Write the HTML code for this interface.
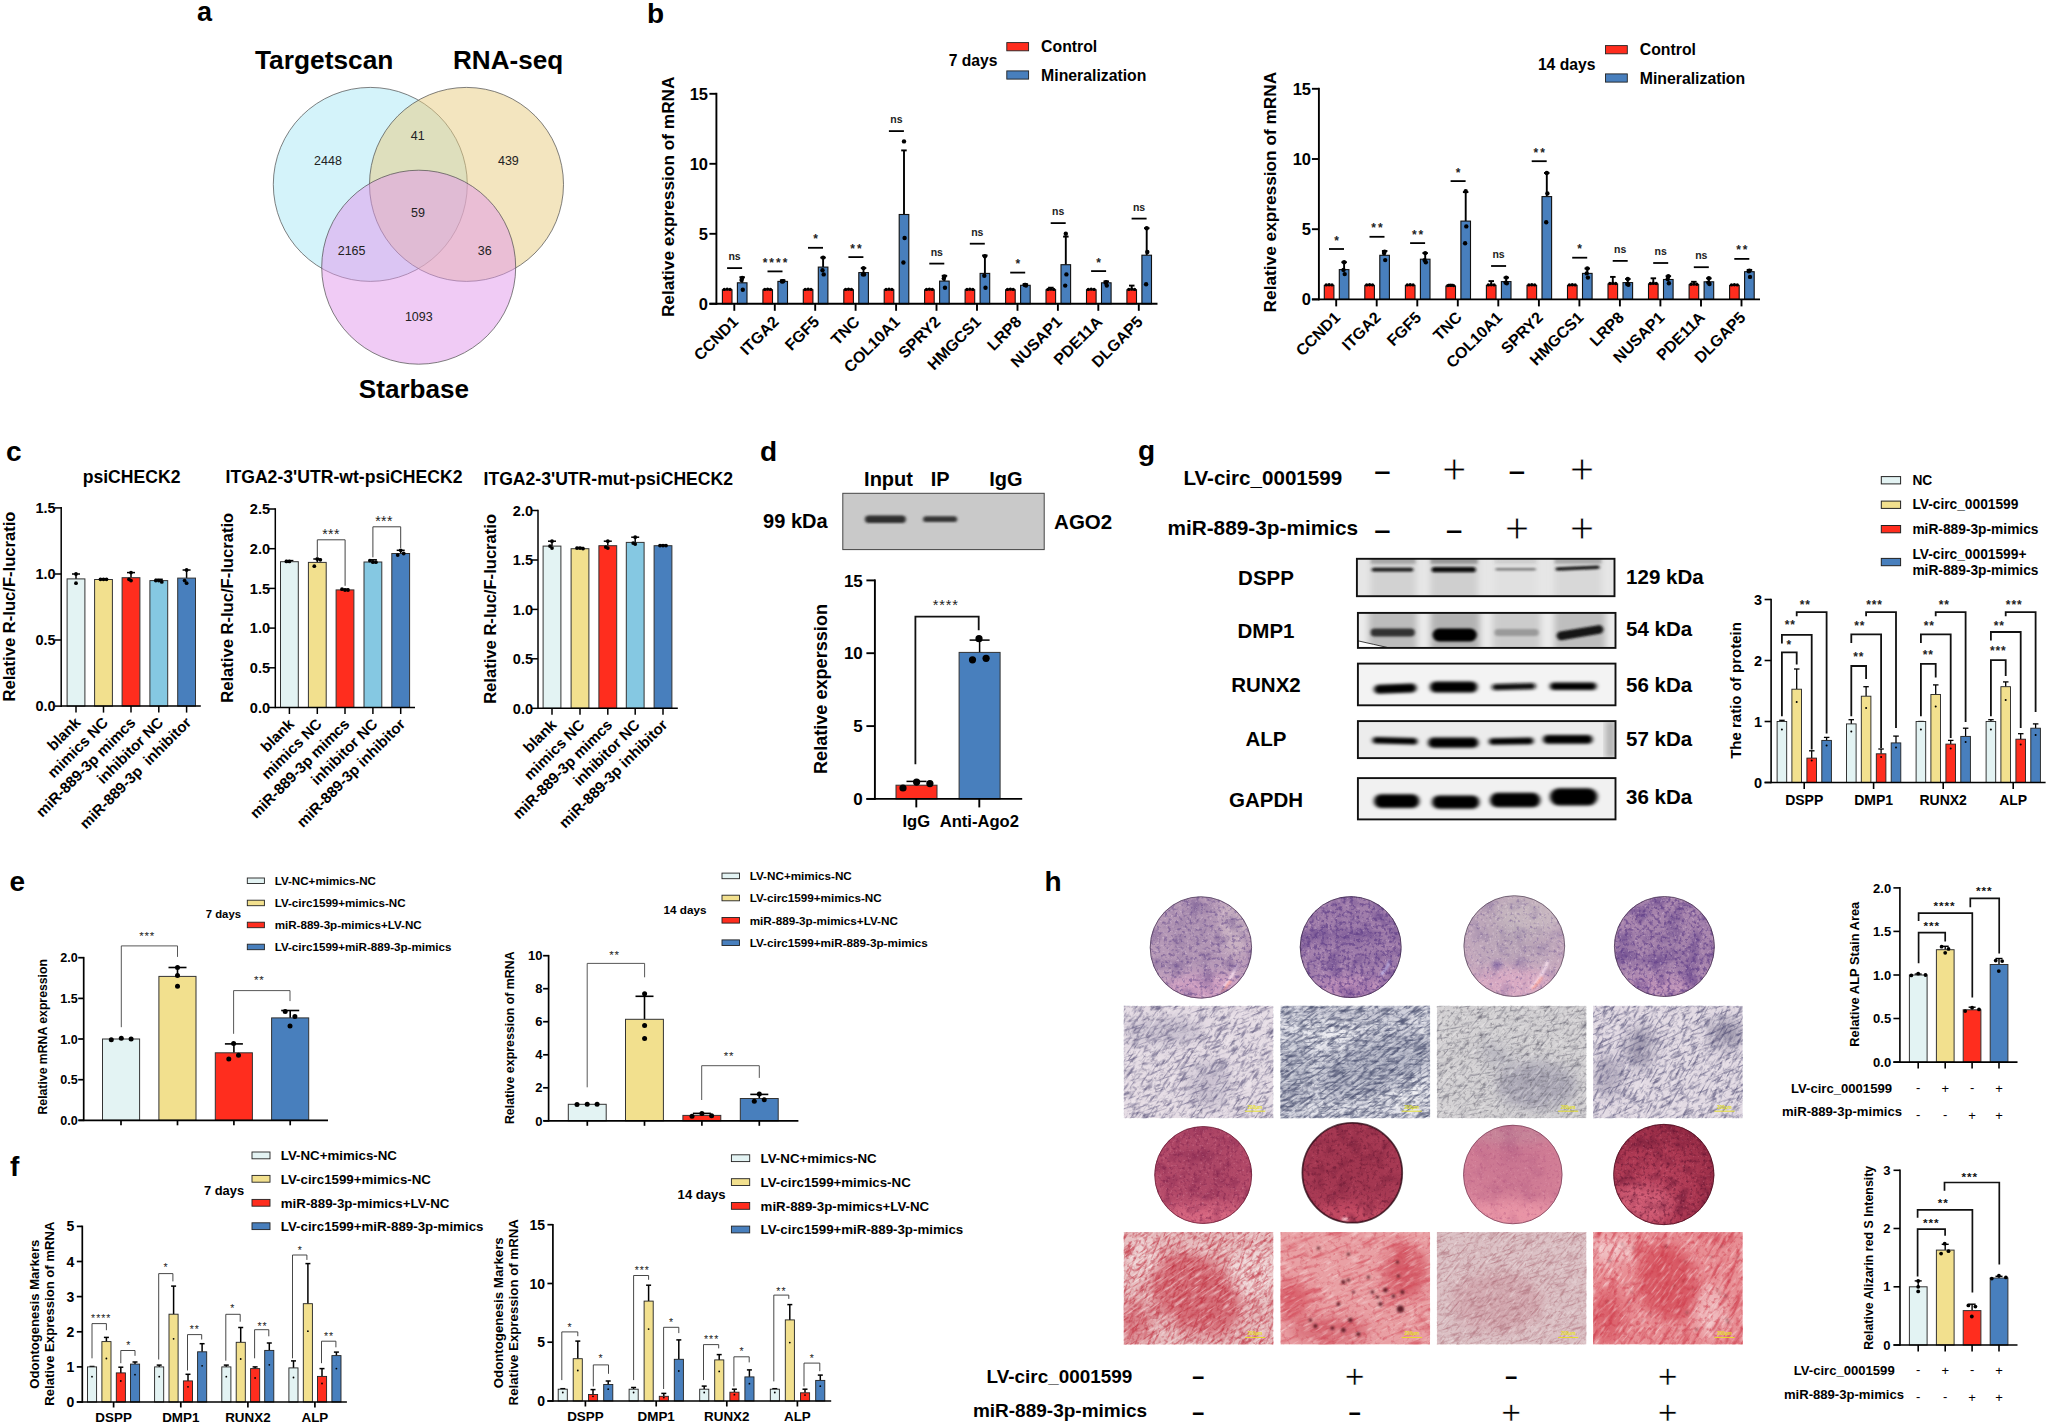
<!DOCTYPE html>
<html lang="en"><head><meta charset="utf-8"><title>Figure</title>
<style>
html,body{margin:0;padding:0;background:#fff;}
body{width:2048px;height:1424px;overflow:hidden;}
svg{display:block;font-family:'Liberation Sans', sans-serif;}
</style></head><body>
<svg width="2048" height="1424" viewBox="0 0 2048 1424">
<text x="197.0" y="21.3" font-size="27" font-weight="bold">a</text>
<text x="255.0" y="69.4" font-size="26.3" font-weight="bold">Targetscan</text>
<text x="453.0" y="69.4" font-size="26.1" font-weight="bold">RNA-seq</text>
<text x="358.8" y="398.4" font-size="26.1" font-weight="bold">Starbase</text>
<circle cx="370.3" cy="184.4" r="97" fill="#aae8f6" fill-opacity="0.5" stroke="#4a4a4a" stroke-width="0.7"/>
<circle cx="466.5" cy="184.4" r="97" fill="#e8cc80" fill-opacity="0.5" stroke="#4a4a4a" stroke-width="0.7"/>
<circle cx="418.7" cy="267.2" r="97" fill="#e198ec" fill-opacity="0.5" stroke="#4a4a4a" stroke-width="0.7"/>
<text x="328.0" y="164.8" font-size="12.5" text-anchor="middle" fill="#222">2448</text>
<text x="417.8" y="139.8" font-size="12.5" text-anchor="middle" fill="#222">41</text>
<text x="508.4" y="164.8" font-size="12.5" text-anchor="middle" fill="#222">439</text>
<text x="418.0" y="216.6" font-size="12.5" text-anchor="middle" fill="#222">59</text>
<text x="351.6" y="254.8" font-size="12.5" text-anchor="middle" fill="#222">2165</text>
<text x="484.7" y="254.8" font-size="12.5" text-anchor="middle" fill="#222">36</text>
<text x="418.8" y="321.0" font-size="12.5" text-anchor="middle" fill="#222">1093</text>
<text x="647.0" y="22.9" font-size="28" font-weight="bold">b</text>
<rect x="722.4" y="289.8" width="9.6" height="14.0" fill="#ff2d1e" stroke="#111" stroke-width="1.1"/>
<line x1="742.2" y1="277.2" x2="742.2" y2="282.8" stroke="#000" stroke-width="1.9"/>
<line x1="739.4" y1="277.2" x2="744.9" y2="277.2" stroke="#000" stroke-width="1.9"/>
<rect x="737.4" y="282.8" width="9.6" height="21.0" fill="#487fbd" stroke="#111" stroke-width="1.1"/>
<circle cx="724.3" cy="289.4" r="1.7" fill="#000"/>
<circle cx="727.2" cy="289.1" r="1.7" fill="#000"/>
<circle cx="730.1" cy="289.4" r="1.7" fill="#000"/>
<circle cx="742.2" cy="277.9" r="2.2" fill="#000"/>
<circle cx="742.8" cy="289.8" r="2.2" fill="#000"/>
<circle cx="741.6" cy="280.0" r="2.2" fill="#000"/>
<rect x="762.9" y="289.8" width="9.6" height="14.0" fill="#ff2d1e" stroke="#111" stroke-width="1.1"/>
<line x1="782.6" y1="280.3" x2="782.6" y2="281.4" stroke="#000" stroke-width="1.9"/>
<line x1="779.9" y1="280.3" x2="785.4" y2="280.3" stroke="#000" stroke-width="1.9"/>
<rect x="777.9" y="281.4" width="9.6" height="22.4" fill="#487fbd" stroke="#111" stroke-width="1.1"/>
<circle cx="764.8" cy="289.4" r="1.7" fill="#000"/>
<circle cx="767.6" cy="289.1" r="1.7" fill="#000"/>
<circle cx="770.5" cy="289.4" r="1.7" fill="#000"/>
<circle cx="782.6" cy="281.4" r="2.2" fill="#000"/>
<circle cx="783.2" cy="281.1" r="2.2" fill="#000"/>
<circle cx="782.0" cy="281.4" r="2.2" fill="#000"/>
<rect x="803.3" y="289.8" width="9.6" height="14.0" fill="#ff2d1e" stroke="#111" stroke-width="1.1"/>
<line x1="823.1" y1="257.6" x2="823.1" y2="267.1" stroke="#000" stroke-width="1.9"/>
<line x1="820.3" y1="257.6" x2="825.8" y2="257.6" stroke="#000" stroke-width="1.9"/>
<rect x="818.3" y="267.1" width="9.6" height="36.7" fill="#487fbd" stroke="#111" stroke-width="1.1"/>
<circle cx="805.2" cy="289.4" r="1.7" fill="#000"/>
<circle cx="808.1" cy="289.1" r="1.7" fill="#000"/>
<circle cx="811.0" cy="289.4" r="1.7" fill="#000"/>
<circle cx="823.1" cy="257.6" r="2.2" fill="#000"/>
<circle cx="823.7" cy="274.4" r="2.2" fill="#000"/>
<circle cx="822.5" cy="270.2" r="2.2" fill="#000"/>
<rect x="843.8" y="289.8" width="9.6" height="14.0" fill="#ff2d1e" stroke="#111" stroke-width="1.1"/>
<line x1="863.5" y1="268.1" x2="863.5" y2="272.6" stroke="#000" stroke-width="1.9"/>
<line x1="860.8" y1="268.1" x2="866.3" y2="268.1" stroke="#000" stroke-width="1.9"/>
<rect x="858.8" y="272.6" width="9.6" height="31.2" fill="#487fbd" stroke="#111" stroke-width="1.1"/>
<circle cx="845.6" cy="289.4" r="1.7" fill="#000"/>
<circle cx="848.5" cy="289.1" r="1.7" fill="#000"/>
<circle cx="851.4" cy="289.4" r="1.7" fill="#000"/>
<circle cx="863.5" cy="268.1" r="2.2" fill="#000"/>
<circle cx="864.1" cy="274.4" r="2.2" fill="#000"/>
<circle cx="862.9" cy="274.4" r="2.2" fill="#000"/>
<rect x="884.2" y="289.8" width="9.6" height="14.0" fill="#ff2d1e" stroke="#111" stroke-width="1.1"/>
<line x1="904.0" y1="150.4" x2="904.0" y2="214.5" stroke="#000" stroke-width="1.9"/>
<line x1="901.2" y1="150.4" x2="906.7" y2="150.4" stroke="#000" stroke-width="1.9"/>
<rect x="899.2" y="214.5" width="9.6" height="89.3" fill="#487fbd" stroke="#111" stroke-width="1.1"/>
<circle cx="886.1" cy="289.4" r="1.7" fill="#000"/>
<circle cx="889.0" cy="289.1" r="1.7" fill="#000"/>
<circle cx="891.9" cy="289.4" r="1.7" fill="#000"/>
<circle cx="904.0" cy="141.4" r="2.2" fill="#000"/>
<circle cx="904.6" cy="238.0" r="2.2" fill="#000"/>
<circle cx="903.4" cy="262.5" r="2.2" fill="#000"/>
<rect x="924.6" y="289.8" width="9.6" height="14.0" fill="#ff2d1e" stroke="#111" stroke-width="1.1"/>
<line x1="944.4" y1="275.8" x2="944.4" y2="281.1" stroke="#000" stroke-width="1.9"/>
<line x1="941.7" y1="275.8" x2="947.2" y2="275.8" stroke="#000" stroke-width="1.9"/>
<rect x="939.6" y="281.1" width="9.6" height="22.7" fill="#487fbd" stroke="#111" stroke-width="1.1"/>
<circle cx="926.5" cy="289.4" r="1.7" fill="#000"/>
<circle cx="929.4" cy="289.1" r="1.7" fill="#000"/>
<circle cx="932.3" cy="289.4" r="1.7" fill="#000"/>
<circle cx="944.4" cy="276.5" r="2.2" fill="#000"/>
<circle cx="945.0" cy="287.7" r="2.2" fill="#000"/>
<circle cx="943.8" cy="278.6" r="2.2" fill="#000"/>
<rect x="965.1" y="289.8" width="9.6" height="14.0" fill="#ff2d1e" stroke="#111" stroke-width="1.1"/>
<line x1="984.9" y1="255.5" x2="984.9" y2="273.4" stroke="#000" stroke-width="1.9"/>
<line x1="982.1" y1="255.5" x2="987.6" y2="255.5" stroke="#000" stroke-width="1.9"/>
<rect x="980.1" y="273.4" width="9.6" height="30.4" fill="#487fbd" stroke="#111" stroke-width="1.1"/>
<circle cx="967.0" cy="289.4" r="1.7" fill="#000"/>
<circle cx="969.9" cy="289.1" r="1.7" fill="#000"/>
<circle cx="972.8" cy="289.4" r="1.7" fill="#000"/>
<circle cx="984.9" cy="256.2" r="2.2" fill="#000"/>
<circle cx="985.5" cy="287.7" r="2.2" fill="#000"/>
<circle cx="984.3" cy="275.8" r="2.2" fill="#000"/>
<rect x="1005.6" y="289.8" width="9.6" height="14.0" fill="#ff2d1e" stroke="#111" stroke-width="1.1"/>
<line x1="1025.4" y1="284.2" x2="1025.4" y2="285.3" stroke="#000" stroke-width="1.9"/>
<line x1="1022.6" y1="284.2" x2="1028.1" y2="284.2" stroke="#000" stroke-width="1.9"/>
<rect x="1020.6" y="285.3" width="9.6" height="18.5" fill="#487fbd" stroke="#111" stroke-width="1.1"/>
<circle cx="1007.5" cy="289.4" r="1.7" fill="#000"/>
<circle cx="1010.4" cy="289.1" r="1.7" fill="#000"/>
<circle cx="1013.2" cy="289.4" r="1.7" fill="#000"/>
<circle cx="1025.4" cy="284.9" r="2.2" fill="#000"/>
<circle cx="1026.0" cy="285.6" r="2.2" fill="#000"/>
<circle cx="1024.8" cy="284.9" r="2.2" fill="#000"/>
<line x1="1050.8" y1="287.7" x2="1050.8" y2="289.8" stroke="#000" stroke-width="1.9"/>
<line x1="1048.1" y1="287.7" x2="1053.6" y2="287.7" stroke="#000" stroke-width="1.9"/>
<rect x="1046.0" y="289.8" width="9.6" height="14.0" fill="#ff2d1e" stroke="#111" stroke-width="1.1"/>
<line x1="1065.8" y1="236.6" x2="1065.8" y2="264.7" stroke="#000" stroke-width="1.9"/>
<line x1="1063.1" y1="236.6" x2="1068.6" y2="236.6" stroke="#000" stroke-width="1.9"/>
<rect x="1061.0" y="264.7" width="9.6" height="39.1" fill="#487fbd" stroke="#111" stroke-width="1.1"/>
<circle cx="1047.9" cy="289.4" r="1.7" fill="#000"/>
<circle cx="1050.8" cy="289.1" r="1.7" fill="#000"/>
<circle cx="1053.7" cy="289.4" r="1.7" fill="#000"/>
<circle cx="1065.8" cy="233.8" r="2.2" fill="#000"/>
<circle cx="1066.4" cy="274.4" r="2.2" fill="#000"/>
<circle cx="1065.2" cy="285.6" r="2.2" fill="#000"/>
<rect x="1086.5" y="289.8" width="9.6" height="14.0" fill="#ff2d1e" stroke="#111" stroke-width="1.1"/>
<line x1="1106.2" y1="281.4" x2="1106.2" y2="282.8" stroke="#000" stroke-width="1.9"/>
<line x1="1103.5" y1="281.4" x2="1109.0" y2="281.4" stroke="#000" stroke-width="1.9"/>
<rect x="1101.5" y="282.8" width="9.6" height="21.0" fill="#487fbd" stroke="#111" stroke-width="1.1"/>
<circle cx="1088.3" cy="289.4" r="1.7" fill="#000"/>
<circle cx="1091.2" cy="289.1" r="1.7" fill="#000"/>
<circle cx="1094.1" cy="289.4" r="1.7" fill="#000"/>
<circle cx="1106.2" cy="282.1" r="2.2" fill="#000"/>
<circle cx="1106.8" cy="285.6" r="2.2" fill="#000"/>
<circle cx="1105.7" cy="282.8" r="2.2" fill="#000"/>
<line x1="1131.7" y1="285.6" x2="1131.7" y2="289.8" stroke="#000" stroke-width="1.9"/>
<line x1="1129.0" y1="285.6" x2="1134.5" y2="285.6" stroke="#000" stroke-width="1.9"/>
<rect x="1126.9" y="289.8" width="9.6" height="14.0" fill="#ff2d1e" stroke="#111" stroke-width="1.1"/>
<line x1="1146.7" y1="228.2" x2="1146.7" y2="255.2" stroke="#000" stroke-width="1.9"/>
<line x1="1144.0" y1="228.2" x2="1149.5" y2="228.2" stroke="#000" stroke-width="1.9"/>
<rect x="1141.9" y="255.2" width="9.6" height="48.6" fill="#487fbd" stroke="#111" stroke-width="1.1"/>
<circle cx="1128.8" cy="289.4" r="1.7" fill="#000"/>
<circle cx="1131.7" cy="289.1" r="1.7" fill="#000"/>
<circle cx="1134.6" cy="289.4" r="1.7" fill="#000"/>
<circle cx="1146.7" cy="228.2" r="2.2" fill="#000"/>
<circle cx="1147.3" cy="252.0" r="2.2" fill="#000"/>
<circle cx="1146.1" cy="284.2" r="2.2" fill="#000"/>
<line x1="716.4" y1="92.8" x2="716.4" y2="304.8" stroke="#000" stroke-width="1.9"/>
<line x1="709.4" y1="303.8" x2="1157.5" y2="303.8" stroke="#000" stroke-width="1.9"/>
<line x1="709.4" y1="93.8" x2="716.4" y2="93.8" stroke="#000" stroke-width="1.9"/>
<text x="708.0" y="99.7" font-size="16.5" font-weight="bold" text-anchor="end">15</text>
<line x1="709.4" y1="163.8" x2="716.4" y2="163.8" stroke="#000" stroke-width="1.9"/>
<text x="708.0" y="169.7" font-size="16.5" font-weight="bold" text-anchor="end">10</text>
<line x1="709.4" y1="233.8" x2="716.4" y2="233.8" stroke="#000" stroke-width="1.9"/>
<text x="708.0" y="239.7" font-size="16.5" font-weight="bold" text-anchor="end">5</text>
<line x1="709.4" y1="303.8" x2="716.4" y2="303.8" stroke="#000" stroke-width="1.9"/>
<text x="708.0" y="309.7" font-size="16.5" font-weight="bold" text-anchor="end">0</text>
<line x1="734.3" y1="303.8" x2="734.3" y2="310.8" stroke="#000" stroke-width="1.9"/>
<line x1="774.8" y1="303.8" x2="774.8" y2="310.8" stroke="#000" stroke-width="1.9"/>
<line x1="815.2" y1="303.8" x2="815.2" y2="310.8" stroke="#000" stroke-width="1.9"/>
<line x1="855.6" y1="303.8" x2="855.6" y2="310.8" stroke="#000" stroke-width="1.9"/>
<line x1="896.1" y1="303.8" x2="896.1" y2="310.8" stroke="#000" stroke-width="1.9"/>
<line x1="936.5" y1="303.8" x2="936.5" y2="310.8" stroke="#000" stroke-width="1.9"/>
<line x1="977.0" y1="303.8" x2="977.0" y2="310.8" stroke="#000" stroke-width="1.9"/>
<line x1="1017.5" y1="303.8" x2="1017.5" y2="310.8" stroke="#000" stroke-width="1.9"/>
<line x1="1057.9" y1="303.8" x2="1057.9" y2="310.8" stroke="#000" stroke-width="1.9"/>
<line x1="1098.3" y1="303.8" x2="1098.3" y2="310.8" stroke="#000" stroke-width="1.9"/>
<line x1="1138.8" y1="303.8" x2="1138.8" y2="310.8" stroke="#000" stroke-width="1.9"/>
<text font-size="17.25" font-weight="bold" text-anchor="middle" transform="translate(674.2 196.8) rotate(-90)">Relative expression of mRNA</text>
<text x="739.3" y="322.8" font-size="15.9" font-weight="bold" text-anchor="end" transform="rotate(-45 739.3 322.8)">CCND1</text>
<text x="779.8" y="322.8" font-size="15.9" font-weight="bold" text-anchor="end" transform="rotate(-45 779.8 322.8)">ITGA2</text>
<text x="820.2" y="322.8" font-size="15.9" font-weight="bold" text-anchor="end" transform="rotate(-45 820.2 322.8)">FGF5</text>
<text x="860.6" y="322.8" font-size="15.9" font-weight="bold" text-anchor="end" transform="rotate(-45 860.6 322.8)">TNC</text>
<text x="901.1" y="322.8" font-size="15.9" font-weight="bold" text-anchor="end" transform="rotate(-45 901.1 322.8)">COL10A1</text>
<text x="941.5" y="322.8" font-size="15.9" font-weight="bold" text-anchor="end" transform="rotate(-45 941.5 322.8)">SPRY2</text>
<text x="982.0" y="322.8" font-size="15.9" font-weight="bold" text-anchor="end" transform="rotate(-45 982.0 322.8)">HMGCS1</text>
<text x="1022.5" y="322.8" font-size="15.9" font-weight="bold" text-anchor="end" transform="rotate(-45 1022.5 322.8)">LRP8</text>
<text x="1062.9" y="322.8" font-size="15.9" font-weight="bold" text-anchor="end" transform="rotate(-45 1062.9 322.8)">NUSAP1</text>
<text x="1103.3" y="322.8" font-size="15.9" font-weight="bold" text-anchor="end" transform="rotate(-45 1103.3 322.8)">PDE11A</text>
<text x="1143.8" y="322.8" font-size="15.9" font-weight="bold" text-anchor="end" transform="rotate(-45 1143.8 322.8)">DLGAP5</text>
<line x1="727.1" y1="268.1" x2="742.1" y2="268.1" stroke="#000" stroke-width="1.8"/>
<text x="734.6" y="260.1" font-size="10.5" font-weight="bold" text-anchor="middle" fill="#222">ns</text>
<line x1="767.5" y1="271.4" x2="782.5" y2="271.4" stroke="#000" stroke-width="1.8"/>
<text x="776.0" y="266.9" font-size="12" font-weight="bold" text-anchor="middle" fill="#222" letter-spacing="2">****</text>
<line x1="808.0" y1="247.8" x2="823.0" y2="247.8" stroke="#000" stroke-width="1.8"/>
<text x="816.5" y="243.3" font-size="12" font-weight="bold" text-anchor="middle" fill="#222" letter-spacing="2">*</text>
<line x1="848.4" y1="257.1" x2="863.4" y2="257.1" stroke="#000" stroke-width="1.8"/>
<text x="856.9" y="252.6" font-size="12" font-weight="bold" text-anchor="middle" fill="#222" letter-spacing="2">**</text>
<line x1="888.9" y1="131.1" x2="903.9" y2="131.1" stroke="#000" stroke-width="1.8"/>
<text x="896.4" y="123.1" font-size="10.5" font-weight="bold" text-anchor="middle" fill="#222">ns</text>
<line x1="929.3" y1="263.6" x2="944.3" y2="263.6" stroke="#000" stroke-width="1.8"/>
<text x="936.8" y="255.6" font-size="10.5" font-weight="bold" text-anchor="middle" fill="#222">ns</text>
<line x1="969.8" y1="243.7" x2="984.8" y2="243.7" stroke="#000" stroke-width="1.8"/>
<text x="977.3" y="235.7" font-size="10.5" font-weight="bold" text-anchor="middle" fill="#222">ns</text>
<line x1="1010.2" y1="272.6" x2="1025.2" y2="272.6" stroke="#000" stroke-width="1.8"/>
<text x="1018.8" y="268.1" font-size="12" font-weight="bold" text-anchor="middle" fill="#222" letter-spacing="2">*</text>
<line x1="1050.7" y1="223.1" x2="1065.7" y2="223.1" stroke="#000" stroke-width="1.8"/>
<text x="1058.2" y="215.1" font-size="10.5" font-weight="bold" text-anchor="middle" fill="#222">ns</text>
<line x1="1091.1" y1="271.1" x2="1106.1" y2="271.1" stroke="#000" stroke-width="1.8"/>
<text x="1099.6" y="266.6" font-size="12" font-weight="bold" text-anchor="middle" fill="#222" letter-spacing="2">*</text>
<line x1="1131.6" y1="218.6" x2="1146.6" y2="218.6" stroke="#000" stroke-width="1.8"/>
<text x="1139.1" y="210.6" font-size="10.5" font-weight="bold" text-anchor="middle" fill="#222">ns</text>
<rect x="1006.8" y="42.6" width="21.8" height="8.2" fill="#ff2d1e" stroke="#222" stroke-width="0.9"/>
<rect x="1006.8" y="70.9" width="21.8" height="8.2" fill="#487fbd" stroke="#222" stroke-width="0.9"/>
<text x="1041.1" y="52.2" font-size="15.8" font-weight="bold">Control</text>
<text x="1041.1" y="80.5" font-size="15.8" font-weight="bold">Mineralization</text>
<text x="948.7" y="66.1" font-size="15.7" font-weight="bold">7 days</text>
<rect x="1324.3" y="285.4" width="9.6" height="14.0" fill="#ff2d1e" stroke="#111" stroke-width="1.1"/>
<line x1="1344.1" y1="262.2" x2="1344.1" y2="269.6" stroke="#000" stroke-width="1.9"/>
<line x1="1341.4" y1="262.2" x2="1346.9" y2="262.2" stroke="#000" stroke-width="1.9"/>
<rect x="1339.3" y="269.6" width="9.6" height="29.8" fill="#487fbd" stroke="#111" stroke-width="1.1"/>
<circle cx="1326.2" cy="284.9" r="1.7" fill="#000"/>
<circle cx="1329.1" cy="284.7" r="1.7" fill="#000"/>
<circle cx="1332.0" cy="284.9" r="1.7" fill="#000"/>
<circle cx="1344.1" cy="262.2" r="2.2" fill="#000"/>
<circle cx="1344.7" cy="274.1" r="2.2" fill="#000"/>
<circle cx="1343.5" cy="269.9" r="2.2" fill="#000"/>
<rect x="1364.8" y="285.4" width="9.6" height="14.0" fill="#ff2d1e" stroke="#111" stroke-width="1.1"/>
<line x1="1384.6" y1="251.0" x2="1384.6" y2="255.3" stroke="#000" stroke-width="1.9"/>
<line x1="1381.9" y1="251.0" x2="1387.4" y2="251.0" stroke="#000" stroke-width="1.9"/>
<rect x="1379.8" y="255.3" width="9.6" height="44.1" fill="#487fbd" stroke="#111" stroke-width="1.1"/>
<circle cx="1366.7" cy="284.9" r="1.7" fill="#000"/>
<circle cx="1369.6" cy="284.7" r="1.7" fill="#000"/>
<circle cx="1372.5" cy="284.9" r="1.7" fill="#000"/>
<circle cx="1384.6" cy="251.7" r="2.2" fill="#000"/>
<circle cx="1385.2" cy="260.1" r="2.2" fill="#000"/>
<circle cx="1384.0" cy="253.1" r="2.2" fill="#000"/>
<rect x="1405.4" y="285.4" width="9.6" height="14.0" fill="#ff2d1e" stroke="#111" stroke-width="1.1"/>
<line x1="1425.2" y1="253.1" x2="1425.2" y2="259.2" stroke="#000" stroke-width="1.9"/>
<line x1="1422.4" y1="253.1" x2="1427.9" y2="253.1" stroke="#000" stroke-width="1.9"/>
<rect x="1420.4" y="259.2" width="9.6" height="40.2" fill="#487fbd" stroke="#111" stroke-width="1.1"/>
<circle cx="1407.3" cy="284.9" r="1.7" fill="#000"/>
<circle cx="1410.2" cy="284.7" r="1.7" fill="#000"/>
<circle cx="1413.1" cy="284.9" r="1.7" fill="#000"/>
<circle cx="1425.2" cy="253.1" r="2.2" fill="#000"/>
<circle cx="1425.8" cy="262.2" r="2.2" fill="#000"/>
<circle cx="1424.6" cy="260.1" r="2.2" fill="#000"/>
<line x1="1450.7" y1="284.7" x2="1450.7" y2="286.1" stroke="#000" stroke-width="1.9"/>
<line x1="1447.9" y1="284.7" x2="1453.4" y2="284.7" stroke="#000" stroke-width="1.9"/>
<rect x="1445.9" y="286.1" width="9.6" height="13.3" fill="#ff2d1e" stroke="#111" stroke-width="1.1"/>
<line x1="1465.7" y1="192.1" x2="1465.7" y2="221.1" stroke="#000" stroke-width="1.9"/>
<line x1="1462.9" y1="192.1" x2="1468.4" y2="192.1" stroke="#000" stroke-width="1.9"/>
<rect x="1460.9" y="221.1" width="9.6" height="78.3" fill="#487fbd" stroke="#111" stroke-width="1.1"/>
<circle cx="1447.8" cy="285.6" r="1.7" fill="#000"/>
<circle cx="1450.7" cy="285.4" r="1.7" fill="#000"/>
<circle cx="1453.6" cy="285.6" r="1.7" fill="#000"/>
<circle cx="1465.7" cy="191.3" r="2.2" fill="#000"/>
<circle cx="1466.3" cy="226.4" r="2.2" fill="#000"/>
<circle cx="1465.1" cy="243.2" r="2.2" fill="#000"/>
<line x1="1491.2" y1="281.1" x2="1491.2" y2="285.4" stroke="#000" stroke-width="1.9"/>
<line x1="1488.5" y1="281.1" x2="1494.0" y2="281.1" stroke="#000" stroke-width="1.9"/>
<rect x="1486.4" y="285.4" width="9.6" height="14.0" fill="#ff2d1e" stroke="#111" stroke-width="1.1"/>
<line x1="1506.2" y1="277.6" x2="1506.2" y2="281.6" stroke="#000" stroke-width="1.9"/>
<line x1="1503.5" y1="277.6" x2="1509.0" y2="277.6" stroke="#000" stroke-width="1.9"/>
<rect x="1501.4" y="281.6" width="9.6" height="17.8" fill="#487fbd" stroke="#111" stroke-width="1.1"/>
<circle cx="1488.3" cy="284.9" r="1.7" fill="#000"/>
<circle cx="1491.2" cy="284.7" r="1.7" fill="#000"/>
<circle cx="1494.1" cy="284.9" r="1.7" fill="#000"/>
<circle cx="1506.2" cy="277.6" r="2.2" fill="#000"/>
<circle cx="1506.8" cy="283.3" r="2.2" fill="#000"/>
<circle cx="1505.6" cy="282.6" r="2.2" fill="#000"/>
<rect x="1527.0" y="285.4" width="9.6" height="14.0" fill="#ff2d1e" stroke="#111" stroke-width="1.1"/>
<line x1="1546.8" y1="173.0" x2="1546.8" y2="196.6" stroke="#000" stroke-width="1.9"/>
<line x1="1544.0" y1="173.0" x2="1549.5" y2="173.0" stroke="#000" stroke-width="1.9"/>
<rect x="1542.0" y="196.6" width="9.6" height="102.8" fill="#487fbd" stroke="#111" stroke-width="1.1"/>
<circle cx="1528.9" cy="284.9" r="1.7" fill="#000"/>
<circle cx="1531.8" cy="284.7" r="1.7" fill="#000"/>
<circle cx="1534.7" cy="284.9" r="1.7" fill="#000"/>
<circle cx="1546.8" cy="173.0" r="2.2" fill="#000"/>
<circle cx="1547.4" cy="193.4" r="2.2" fill="#000"/>
<circle cx="1546.2" cy="222.2" r="2.2" fill="#000"/>
<rect x="1567.5" y="285.4" width="9.6" height="14.0" fill="#ff2d1e" stroke="#111" stroke-width="1.1"/>
<line x1="1587.3" y1="268.5" x2="1587.3" y2="273.4" stroke="#000" stroke-width="1.9"/>
<line x1="1584.5" y1="268.5" x2="1590.0" y2="268.5" stroke="#000" stroke-width="1.9"/>
<rect x="1582.5" y="273.4" width="9.6" height="26.0" fill="#487fbd" stroke="#111" stroke-width="1.1"/>
<circle cx="1569.4" cy="284.9" r="1.7" fill="#000"/>
<circle cx="1572.3" cy="284.7" r="1.7" fill="#000"/>
<circle cx="1575.2" cy="284.9" r="1.7" fill="#000"/>
<circle cx="1587.3" cy="268.5" r="2.2" fill="#000"/>
<circle cx="1587.9" cy="277.6" r="2.2" fill="#000"/>
<circle cx="1586.7" cy="273.4" r="2.2" fill="#000"/>
<line x1="1612.8" y1="276.9" x2="1612.8" y2="284.0" stroke="#000" stroke-width="1.9"/>
<line x1="1610.1" y1="276.9" x2="1615.6" y2="276.9" stroke="#000" stroke-width="1.9"/>
<rect x="1608.0" y="284.0" width="9.6" height="15.4" fill="#ff2d1e" stroke="#111" stroke-width="1.1"/>
<line x1="1627.8" y1="279.0" x2="1627.8" y2="282.6" stroke="#000" stroke-width="1.9"/>
<line x1="1625.1" y1="279.0" x2="1630.6" y2="279.0" stroke="#000" stroke-width="1.9"/>
<rect x="1623.0" y="282.6" width="9.6" height="16.8" fill="#487fbd" stroke="#111" stroke-width="1.1"/>
<circle cx="1609.9" cy="283.5" r="1.7" fill="#000"/>
<circle cx="1612.8" cy="283.3" r="1.7" fill="#000"/>
<circle cx="1615.7" cy="283.5" r="1.7" fill="#000"/>
<circle cx="1627.8" cy="279.0" r="2.2" fill="#000"/>
<circle cx="1628.4" cy="284.7" r="2.2" fill="#000"/>
<circle cx="1627.2" cy="284.0" r="2.2" fill="#000"/>
<line x1="1653.3" y1="278.3" x2="1653.3" y2="284.0" stroke="#000" stroke-width="1.9"/>
<line x1="1650.6" y1="278.3" x2="1656.1" y2="278.3" stroke="#000" stroke-width="1.9"/>
<rect x="1648.5" y="284.0" width="9.6" height="15.4" fill="#ff2d1e" stroke="#111" stroke-width="1.1"/>
<line x1="1668.3" y1="276.2" x2="1668.3" y2="279.5" stroke="#000" stroke-width="1.9"/>
<line x1="1665.6" y1="276.2" x2="1671.1" y2="276.2" stroke="#000" stroke-width="1.9"/>
<rect x="1663.5" y="279.5" width="9.6" height="19.9" fill="#487fbd" stroke="#111" stroke-width="1.1"/>
<circle cx="1650.4" cy="283.5" r="1.7" fill="#000"/>
<circle cx="1653.3" cy="283.3" r="1.7" fill="#000"/>
<circle cx="1656.2" cy="283.5" r="1.7" fill="#000"/>
<circle cx="1668.3" cy="276.2" r="2.2" fill="#000"/>
<circle cx="1668.9" cy="283.3" r="2.2" fill="#000"/>
<circle cx="1667.7" cy="279.0" r="2.2" fill="#000"/>
<line x1="1693.9" y1="281.8" x2="1693.9" y2="284.7" stroke="#000" stroke-width="1.9"/>
<line x1="1691.1" y1="281.8" x2="1696.6" y2="281.8" stroke="#000" stroke-width="1.9"/>
<rect x="1689.1" y="284.7" width="9.6" height="14.7" fill="#ff2d1e" stroke="#111" stroke-width="1.1"/>
<line x1="1708.9" y1="278.3" x2="1708.9" y2="281.8" stroke="#000" stroke-width="1.9"/>
<line x1="1706.1" y1="278.3" x2="1711.6" y2="278.3" stroke="#000" stroke-width="1.9"/>
<rect x="1704.1" y="281.8" width="9.6" height="17.6" fill="#487fbd" stroke="#111" stroke-width="1.1"/>
<circle cx="1691.0" cy="284.2" r="1.7" fill="#000"/>
<circle cx="1693.9" cy="284.0" r="1.7" fill="#000"/>
<circle cx="1696.8" cy="284.2" r="1.7" fill="#000"/>
<circle cx="1708.9" cy="278.3" r="2.2" fill="#000"/>
<circle cx="1709.5" cy="284.0" r="2.2" fill="#000"/>
<circle cx="1708.3" cy="282.6" r="2.2" fill="#000"/>
<rect x="1729.6" y="285.4" width="9.6" height="14.0" fill="#ff2d1e" stroke="#111" stroke-width="1.1"/>
<line x1="1749.4" y1="269.9" x2="1749.4" y2="271.7" stroke="#000" stroke-width="1.9"/>
<line x1="1746.7" y1="269.9" x2="1752.2" y2="269.9" stroke="#000" stroke-width="1.9"/>
<rect x="1744.6" y="271.7" width="9.6" height="27.7" fill="#487fbd" stroke="#111" stroke-width="1.1"/>
<circle cx="1731.5" cy="284.9" r="1.7" fill="#000"/>
<circle cx="1734.4" cy="284.7" r="1.7" fill="#000"/>
<circle cx="1737.3" cy="284.9" r="1.7" fill="#000"/>
<circle cx="1749.4" cy="270.6" r="2.2" fill="#000"/>
<circle cx="1750.0" cy="276.9" r="2.2" fill="#000"/>
<circle cx="1748.8" cy="271.3" r="2.2" fill="#000"/>
<line x1="1318.9" y1="87.8" x2="1318.9" y2="300.3" stroke="#000" stroke-width="1.9"/>
<line x1="1311.9" y1="299.4" x2="1760.0" y2="299.4" stroke="#000" stroke-width="1.9"/>
<line x1="1311.9" y1="88.8" x2="1318.9" y2="88.8" stroke="#000" stroke-width="1.9"/>
<text x="1311.0" y="94.7" font-size="16.5" font-weight="bold" text-anchor="end">15</text>
<line x1="1311.9" y1="159.0" x2="1318.9" y2="159.0" stroke="#000" stroke-width="1.9"/>
<text x="1311.0" y="164.9" font-size="16.5" font-weight="bold" text-anchor="end">10</text>
<line x1="1311.9" y1="229.2" x2="1318.9" y2="229.2" stroke="#000" stroke-width="1.9"/>
<text x="1311.0" y="235.1" font-size="16.5" font-weight="bold" text-anchor="end">5</text>
<line x1="1311.9" y1="299.4" x2="1318.9" y2="299.4" stroke="#000" stroke-width="1.9"/>
<text x="1311.0" y="305.3" font-size="16.5" font-weight="bold" text-anchor="end">0</text>
<line x1="1336.2" y1="299.4" x2="1336.2" y2="306.4" stroke="#000" stroke-width="1.9"/>
<line x1="1376.7" y1="299.4" x2="1376.7" y2="306.4" stroke="#000" stroke-width="1.9"/>
<line x1="1417.3" y1="299.4" x2="1417.3" y2="306.4" stroke="#000" stroke-width="1.9"/>
<line x1="1457.8" y1="299.4" x2="1457.8" y2="306.4" stroke="#000" stroke-width="1.9"/>
<line x1="1498.3" y1="299.4" x2="1498.3" y2="306.4" stroke="#000" stroke-width="1.9"/>
<line x1="1538.9" y1="299.4" x2="1538.9" y2="306.4" stroke="#000" stroke-width="1.9"/>
<line x1="1579.4" y1="299.4" x2="1579.4" y2="306.4" stroke="#000" stroke-width="1.9"/>
<line x1="1619.9" y1="299.4" x2="1619.9" y2="306.4" stroke="#000" stroke-width="1.9"/>
<line x1="1660.4" y1="299.4" x2="1660.4" y2="306.4" stroke="#000" stroke-width="1.9"/>
<line x1="1701.0" y1="299.4" x2="1701.0" y2="306.4" stroke="#000" stroke-width="1.9"/>
<line x1="1741.5" y1="299.4" x2="1741.5" y2="306.4" stroke="#000" stroke-width="1.9"/>
<text font-size="17.25" font-weight="bold" text-anchor="middle" transform="translate(1276.2 192.1) rotate(-90)">Relative expression of mRNA</text>
<text x="1341.2" y="318.4" font-size="15.9" font-weight="bold" text-anchor="end" transform="rotate(-45 1341.2 318.4)">CCND1</text>
<text x="1381.7" y="318.4" font-size="15.9" font-weight="bold" text-anchor="end" transform="rotate(-45 1381.7 318.4)">ITGA2</text>
<text x="1422.3" y="318.4" font-size="15.9" font-weight="bold" text-anchor="end" transform="rotate(-45 1422.3 318.4)">FGF5</text>
<text x="1462.8" y="318.4" font-size="15.9" font-weight="bold" text-anchor="end" transform="rotate(-45 1462.8 318.4)">TNC</text>
<text x="1503.3" y="318.4" font-size="15.9" font-weight="bold" text-anchor="end" transform="rotate(-45 1503.3 318.4)">COL10A1</text>
<text x="1543.9" y="318.4" font-size="15.9" font-weight="bold" text-anchor="end" transform="rotate(-45 1543.9 318.4)">SPRY2</text>
<text x="1584.4" y="318.4" font-size="15.9" font-weight="bold" text-anchor="end" transform="rotate(-45 1584.4 318.4)">HMGCS1</text>
<text x="1624.9" y="318.4" font-size="15.9" font-weight="bold" text-anchor="end" transform="rotate(-45 1624.9 318.4)">LRP8</text>
<text x="1665.4" y="318.4" font-size="15.9" font-weight="bold" text-anchor="end" transform="rotate(-45 1665.4 318.4)">NUSAP1</text>
<text x="1706.0" y="318.4" font-size="15.9" font-weight="bold" text-anchor="end" transform="rotate(-45 1706.0 318.4)">PDE11A</text>
<text x="1746.5" y="318.4" font-size="15.9" font-weight="bold" text-anchor="end" transform="rotate(-45 1746.5 318.4)">DLGAP5</text>
<line x1="1329.0" y1="249.0" x2="1344.0" y2="249.0" stroke="#000" stroke-width="1.8"/>
<text x="1337.5" y="244.5" font-size="12" font-weight="bold" text-anchor="middle" fill="#222" letter-spacing="2">*</text>
<line x1="1369.5" y1="236.8" x2="1384.5" y2="236.8" stroke="#000" stroke-width="1.8"/>
<text x="1378.0" y="232.3" font-size="12" font-weight="bold" text-anchor="middle" fill="#222" letter-spacing="2">**</text>
<line x1="1410.1" y1="243.1" x2="1425.1" y2="243.1" stroke="#000" stroke-width="1.8"/>
<text x="1418.6" y="238.6" font-size="12" font-weight="bold" text-anchor="middle" fill="#222" letter-spacing="2">**</text>
<line x1="1450.6" y1="181.1" x2="1465.6" y2="181.1" stroke="#000" stroke-width="1.8"/>
<text x="1459.1" y="176.6" font-size="12" font-weight="bold" text-anchor="middle" fill="#222" letter-spacing="2">*</text>
<line x1="1491.1" y1="266.0" x2="1506.1" y2="266.0" stroke="#000" stroke-width="1.8"/>
<text x="1498.6" y="258.0" font-size="10.5" font-weight="bold" text-anchor="middle" fill="#222">ns</text>
<line x1="1531.7" y1="161.2" x2="1546.7" y2="161.2" stroke="#000" stroke-width="1.8"/>
<text x="1540.2" y="156.7" font-size="12" font-weight="bold" text-anchor="middle" fill="#222" letter-spacing="2">**</text>
<line x1="1572.2" y1="257.7" x2="1587.2" y2="257.7" stroke="#000" stroke-width="1.8"/>
<text x="1580.7" y="253.2" font-size="12" font-weight="bold" text-anchor="middle" fill="#222" letter-spacing="2">*</text>
<line x1="1612.7" y1="260.9" x2="1627.7" y2="260.9" stroke="#000" stroke-width="1.8"/>
<text x="1620.2" y="252.9" font-size="10.5" font-weight="bold" text-anchor="middle" fill="#222">ns</text>
<line x1="1653.2" y1="263.0" x2="1668.2" y2="263.0" stroke="#000" stroke-width="1.8"/>
<text x="1660.7" y="255.0" font-size="10.5" font-weight="bold" text-anchor="middle" fill="#222">ns</text>
<line x1="1693.8" y1="267.2" x2="1708.8" y2="267.2" stroke="#000" stroke-width="1.8"/>
<text x="1701.3" y="259.2" font-size="10.5" font-weight="bold" text-anchor="middle" fill="#222">ns</text>
<line x1="1734.3" y1="258.9" x2="1749.3" y2="258.9" stroke="#000" stroke-width="1.8"/>
<text x="1742.8" y="254.4" font-size="12" font-weight="bold" text-anchor="middle" fill="#222" letter-spacing="2">**</text>
<rect x="1605.5" y="45.6" width="21.8" height="8.2" fill="#ff2d1e" stroke="#222" stroke-width="0.9"/>
<rect x="1605.5" y="73.9" width="21.8" height="8.2" fill="#487fbd" stroke="#222" stroke-width="0.9"/>
<text x="1639.8" y="55.2" font-size="15.8" font-weight="bold">Control</text>
<text x="1639.8" y="83.5" font-size="15.8" font-weight="bold">Mineralization</text>
<text x="1537.9" y="69.6" font-size="15.7" font-weight="bold">14 days</text>
<text x="6.0" y="461.0" font-size="28" font-weight="bold">c</text>
<line x1="76.0" y1="574.0" x2="76.0" y2="578.9" stroke="#000" stroke-width="1.5"/>
<line x1="72.0" y1="574.0" x2="80.0" y2="574.0" stroke="#000" stroke-width="1.5"/>
<rect x="67.1" y="578.9" width="17.8" height="127.2" fill="#e3f3f3" stroke="#333" stroke-width="1"/>
<circle cx="76.0" cy="583.2" r="1.9" fill="#000"/>
<circle cx="76.0" cy="574.0" r="1.9" fill="#000"/>
<line x1="103.5" y1="579.0" x2="103.5" y2="579.5" stroke="#000" stroke-width="1.5"/>
<line x1="99.5" y1="579.0" x2="107.5" y2="579.0" stroke="#000" stroke-width="1.5"/>
<rect x="94.6" y="579.5" width="17.8" height="126.6" fill="#f2e08e" stroke="#333" stroke-width="1"/>
<circle cx="103.5" cy="579.3" r="1.9" fill="#000"/>
<circle cx="100.5" cy="579.3" r="1.9" fill="#000"/>
<circle cx="106.5" cy="579.3" r="1.9" fill="#000"/>
<line x1="131.0" y1="572.6" x2="131.0" y2="577.7" stroke="#000" stroke-width="1.5"/>
<line x1="127.0" y1="572.6" x2="135.0" y2="572.6" stroke="#000" stroke-width="1.5"/>
<rect x="122.1" y="577.7" width="17.8" height="128.4" fill="#ff2d1e" stroke="#333" stroke-width="1"/>
<circle cx="131.0" cy="572.6" r="1.9" fill="#000"/>
<circle cx="131.0" cy="580.6" r="1.9" fill="#000"/>
<circle cx="129.0" cy="579.3" r="1.9" fill="#000"/>
<line x1="158.8" y1="579.3" x2="158.8" y2="580.6" stroke="#000" stroke-width="1.5"/>
<line x1="154.8" y1="579.3" x2="162.8" y2="579.3" stroke="#000" stroke-width="1.5"/>
<rect x="149.9" y="580.6" width="17.8" height="125.5" fill="#85c8e2" stroke="#333" stroke-width="1"/>
<circle cx="158.8" cy="580.6" r="1.9" fill="#000"/>
<circle cx="155.8" cy="580.6" r="1.9" fill="#000"/>
<circle cx="161.8" cy="581.9" r="1.9" fill="#000"/>
<line x1="186.6" y1="570.0" x2="186.6" y2="578.1" stroke="#000" stroke-width="1.5"/>
<line x1="182.6" y1="570.0" x2="190.6" y2="570.0" stroke="#000" stroke-width="1.5"/>
<rect x="177.7" y="578.1" width="17.8" height="128.0" fill="#487fbd" stroke="#333" stroke-width="1"/>
<circle cx="186.6" cy="570.0" r="1.9" fill="#000"/>
<circle cx="186.6" cy="583.2" r="1.9" fill="#000"/>
<circle cx="184.6" cy="580.6" r="1.9" fill="#000"/>
<line x1="61.2" y1="507.1" x2="61.2" y2="706.9" stroke="#000" stroke-width="1.5"/>
<line x1="61.2" y1="706.1" x2="200.8" y2="706.1" stroke="#000" stroke-width="1.5"/>
<line x1="54.7" y1="507.9" x2="61.2" y2="507.9" stroke="#000" stroke-width="1.5"/>
<text x="55.7" y="513.1" font-size="14.5" font-weight="bold" text-anchor="end">1.5</text>
<line x1="54.7" y1="574.0" x2="61.2" y2="574.0" stroke="#000" stroke-width="1.5"/>
<text x="55.7" y="579.2" font-size="14.5" font-weight="bold" text-anchor="end">1.0</text>
<line x1="54.7" y1="640.0" x2="61.2" y2="640.0" stroke="#000" stroke-width="1.5"/>
<text x="55.7" y="645.2" font-size="14.5" font-weight="bold" text-anchor="end">0.5</text>
<line x1="54.7" y1="706.1" x2="61.2" y2="706.1" stroke="#000" stroke-width="1.5"/>
<text x="55.7" y="711.3" font-size="14.5" font-weight="bold" text-anchor="end">0.0</text>
<line x1="76.0" y1="706.1" x2="76.0" y2="712.6" stroke="#000" stroke-width="1.5"/>
<line x1="103.5" y1="706.1" x2="103.5" y2="712.6" stroke="#000" stroke-width="1.5"/>
<line x1="131.0" y1="706.1" x2="131.0" y2="712.6" stroke="#000" stroke-width="1.5"/>
<line x1="158.8" y1="706.1" x2="158.8" y2="712.6" stroke="#000" stroke-width="1.5"/>
<line x1="186.6" y1="706.1" x2="186.6" y2="712.6" stroke="#000" stroke-width="1.5"/>
<text font-size="16.6" font-weight="bold" text-anchor="middle" transform="translate(15.2 606.5) rotate(-90)">Relative R-luc/F-lucratio</text>
<text x="81.5" y="723.6" font-size="15.1" font-weight="bold" text-anchor="end" transform="rotate(-45 81.5 723.6)">blank</text>
<text x="109.0" y="723.6" font-size="15.1" font-weight="bold" text-anchor="end" transform="rotate(-45 109.0 723.6)">mimics NC</text>
<text x="136.5" y="723.6" font-size="15.1" font-weight="bold" text-anchor="end" transform="rotate(-45 136.5 723.6)">miR-889-3p mimcs</text>
<text x="164.3" y="723.6" font-size="15.1" font-weight="bold" text-anchor="end" transform="rotate(-45 164.3 723.6)">inhibitor NC</text>
<text x="192.1" y="723.6" font-size="15.1" font-weight="bold" text-anchor="end" transform="rotate(-45 192.1 723.6)">miR-889-3p  inhibitor</text>
<text x="82.7" y="482.7" font-size="17.6" font-weight="bold">psiCHECK2</text>
<line x1="289.4" y1="560.6" x2="289.4" y2="561.7" stroke="#000" stroke-width="1.5"/>
<line x1="285.4" y1="560.6" x2="293.4" y2="560.6" stroke="#000" stroke-width="1.5"/>
<rect x="280.5" y="561.7" width="17.8" height="145.8" fill="#e3f3f3" stroke="#333" stroke-width="1"/>
<circle cx="289.4" cy="561.4" r="1.9" fill="#000"/>
<circle cx="286.4" cy="561.4" r="1.9" fill="#000"/>
<line x1="317.3" y1="559.0" x2="317.3" y2="562.4" stroke="#000" stroke-width="1.5"/>
<line x1="313.3" y1="559.0" x2="321.3" y2="559.0" stroke="#000" stroke-width="1.5"/>
<rect x="308.4" y="562.4" width="17.8" height="145.1" fill="#f2e08e" stroke="#333" stroke-width="1"/>
<circle cx="317.3" cy="559.0" r="1.9" fill="#000"/>
<circle cx="314.3" cy="566.2" r="1.9" fill="#000"/>
<circle cx="320.3" cy="559.8" r="1.9" fill="#000"/>
<line x1="345.0" y1="589.2" x2="345.0" y2="589.9" stroke="#000" stroke-width="1.5"/>
<line x1="341.0" y1="589.2" x2="349.0" y2="589.2" stroke="#000" stroke-width="1.5"/>
<rect x="336.1" y="589.9" width="17.8" height="117.6" fill="#ff2d1e" stroke="#333" stroke-width="1"/>
<circle cx="345.0" cy="590.0" r="1.9" fill="#000"/>
<circle cx="342.0" cy="589.2" r="1.9" fill="#000"/>
<circle cx="348.0" cy="590.0" r="1.9" fill="#000"/>
<line x1="372.9" y1="559.8" x2="372.9" y2="562.0" stroke="#000" stroke-width="1.5"/>
<line x1="368.9" y1="559.8" x2="376.9" y2="559.8" stroke="#000" stroke-width="1.5"/>
<rect x="364.0" y="562.0" width="17.8" height="145.5" fill="#85c8e2" stroke="#333" stroke-width="1"/>
<circle cx="372.9" cy="562.2" r="1.9" fill="#000"/>
<circle cx="369.9" cy="560.6" r="1.9" fill="#000"/>
<circle cx="375.9" cy="562.2" r="1.9" fill="#000"/>
<line x1="400.7" y1="550.3" x2="400.7" y2="553.5" stroke="#000" stroke-width="1.5"/>
<line x1="396.7" y1="550.3" x2="404.7" y2="550.3" stroke="#000" stroke-width="1.5"/>
<rect x="391.8" y="553.5" width="17.8" height="154.0" fill="#487fbd" stroke="#333" stroke-width="1"/>
<circle cx="400.7" cy="550.3" r="1.9" fill="#000"/>
<circle cx="397.7" cy="555.1" r="1.9" fill="#000"/>
<circle cx="403.7" cy="553.5" r="1.9" fill="#000"/>
<line x1="275.3" y1="508.2" x2="275.3" y2="708.2" stroke="#000" stroke-width="1.5"/>
<line x1="275.3" y1="707.5" x2="415.0" y2="707.5" stroke="#000" stroke-width="1.5"/>
<line x1="268.8" y1="509.0" x2="275.3" y2="509.0" stroke="#000" stroke-width="1.5"/>
<text x="270.0" y="514.2" font-size="14.5" font-weight="bold" text-anchor="end">2.5</text>
<line x1="268.8" y1="548.7" x2="275.3" y2="548.7" stroke="#000" stroke-width="1.5"/>
<text x="270.0" y="553.9" font-size="14.5" font-weight="bold" text-anchor="end">2.0</text>
<line x1="268.8" y1="588.4" x2="275.3" y2="588.4" stroke="#000" stroke-width="1.5"/>
<text x="270.0" y="593.6" font-size="14.5" font-weight="bold" text-anchor="end">1.5</text>
<line x1="268.8" y1="628.1" x2="275.3" y2="628.1" stroke="#000" stroke-width="1.5"/>
<text x="270.0" y="633.3" font-size="14.5" font-weight="bold" text-anchor="end">1.0</text>
<line x1="268.8" y1="667.8" x2="275.3" y2="667.8" stroke="#000" stroke-width="1.5"/>
<text x="270.0" y="673.0" font-size="14.5" font-weight="bold" text-anchor="end">0.5</text>
<line x1="268.8" y1="707.5" x2="275.3" y2="707.5" stroke="#000" stroke-width="1.5"/>
<text x="270.0" y="712.7" font-size="14.5" font-weight="bold" text-anchor="end">0.0</text>
<line x1="289.4" y1="707.5" x2="289.4" y2="714.0" stroke="#000" stroke-width="1.5"/>
<line x1="317.3" y1="707.5" x2="317.3" y2="714.0" stroke="#000" stroke-width="1.5"/>
<line x1="345.0" y1="707.5" x2="345.0" y2="714.0" stroke="#000" stroke-width="1.5"/>
<line x1="372.9" y1="707.5" x2="372.9" y2="714.0" stroke="#000" stroke-width="1.5"/>
<line x1="400.7" y1="707.5" x2="400.7" y2="714.0" stroke="#000" stroke-width="1.5"/>
<text font-size="16.6" font-weight="bold" text-anchor="middle" transform="translate(232.9 607.8) rotate(-90)">Relative R-luc/F-lucratio</text>
<text x="294.9" y="725.0" font-size="15.1" font-weight="bold" text-anchor="end" transform="rotate(-45 294.9 725.0)">blank</text>
<text x="322.8" y="725.0" font-size="15.1" font-weight="bold" text-anchor="end" transform="rotate(-45 322.8 725.0)">mimics NC</text>
<text x="350.5" y="725.0" font-size="15.1" font-weight="bold" text-anchor="end" transform="rotate(-45 350.5 725.0)">miR-889-3p mimcs</text>
<text x="378.4" y="725.0" font-size="15.1" font-weight="bold" text-anchor="end" transform="rotate(-45 378.4 725.0)">inhibitor NC</text>
<text x="406.2" y="725.0" font-size="15.1" font-weight="bold" text-anchor="end" transform="rotate(-45 406.2 725.0)">miR-889-3p inhibitor</text>
<text x="225.6" y="482.7" font-size="17.6" font-weight="bold">ITGA2-3'UTR-wt-psiCHECK2</text>
<line x1="552.0" y1="541.2" x2="552.0" y2="546.1" stroke="#000" stroke-width="1.5"/>
<line x1="548.0" y1="541.2" x2="556.0" y2="541.2" stroke="#000" stroke-width="1.5"/>
<rect x="543.1" y="546.1" width="17.8" height="162.2" fill="#e3f3f3" stroke="#333" stroke-width="1"/>
<circle cx="552.0" cy="541.2" r="1.9" fill="#000"/>
<circle cx="552.0" cy="548.1" r="1.9" fill="#000"/>
<circle cx="550.0" cy="546.1" r="1.9" fill="#000"/>
<line x1="580.0" y1="547.6" x2="580.0" y2="548.7" stroke="#000" stroke-width="1.5"/>
<line x1="576.0" y1="547.6" x2="584.0" y2="547.6" stroke="#000" stroke-width="1.5"/>
<rect x="571.1" y="548.7" width="17.8" height="159.6" fill="#f2e08e" stroke="#333" stroke-width="1"/>
<circle cx="580.0" cy="548.1" r="1.9" fill="#000"/>
<circle cx="577.0" cy="548.1" r="1.9" fill="#000"/>
<circle cx="583.0" cy="548.6" r="1.9" fill="#000"/>
<line x1="607.8" y1="541.2" x2="607.8" y2="545.7" stroke="#000" stroke-width="1.5"/>
<line x1="603.8" y1="541.2" x2="611.8" y2="541.2" stroke="#000" stroke-width="1.5"/>
<rect x="598.9" y="545.7" width="17.8" height="162.6" fill="#ff2d1e" stroke="#333" stroke-width="1"/>
<circle cx="607.8" cy="541.2" r="1.9" fill="#000"/>
<circle cx="607.8" cy="548.1" r="1.9" fill="#000"/>
<circle cx="605.8" cy="547.1" r="1.9" fill="#000"/>
<line x1="635.2" y1="537.2" x2="635.2" y2="542.4" stroke="#000" stroke-width="1.5"/>
<line x1="631.2" y1="537.2" x2="639.2" y2="537.2" stroke="#000" stroke-width="1.5"/>
<rect x="626.3" y="542.4" width="17.8" height="165.9" fill="#85c8e2" stroke="#333" stroke-width="1"/>
<circle cx="635.2" cy="537.2" r="1.9" fill="#000"/>
<circle cx="635.2" cy="544.1" r="1.9" fill="#000"/>
<circle cx="633.2" cy="543.1" r="1.9" fill="#000"/>
<line x1="663.0" y1="545.1" x2="663.0" y2="545.7" stroke="#000" stroke-width="1.5"/>
<line x1="659.0" y1="545.1" x2="667.0" y2="545.1" stroke="#000" stroke-width="1.5"/>
<rect x="654.1" y="545.7" width="17.8" height="162.6" fill="#487fbd" stroke="#333" stroke-width="1"/>
<circle cx="663.0" cy="545.6" r="1.9" fill="#000"/>
<circle cx="660.0" cy="545.6" r="1.9" fill="#000"/>
<circle cx="666.0" cy="545.6" r="1.9" fill="#000"/>
<line x1="538.0" y1="509.8" x2="538.0" y2="709.0" stroke="#000" stroke-width="1.5"/>
<line x1="538.0" y1="708.3" x2="677.8" y2="708.3" stroke="#000" stroke-width="1.5"/>
<line x1="531.5" y1="510.5" x2="538.0" y2="510.5" stroke="#000" stroke-width="1.5"/>
<text x="533.0" y="515.7" font-size="14.5" font-weight="bold" text-anchor="end">2.0</text>
<line x1="531.5" y1="560.0" x2="538.0" y2="560.0" stroke="#000" stroke-width="1.5"/>
<text x="533.0" y="565.1" font-size="14.5" font-weight="bold" text-anchor="end">1.5</text>
<line x1="531.5" y1="609.4" x2="538.0" y2="609.4" stroke="#000" stroke-width="1.5"/>
<text x="533.0" y="614.6" font-size="14.5" font-weight="bold" text-anchor="end">1.0</text>
<line x1="531.5" y1="658.8" x2="538.0" y2="658.8" stroke="#000" stroke-width="1.5"/>
<text x="533.0" y="664.0" font-size="14.5" font-weight="bold" text-anchor="end">0.5</text>
<line x1="531.5" y1="708.3" x2="538.0" y2="708.3" stroke="#000" stroke-width="1.5"/>
<text x="533.0" y="713.5" font-size="14.5" font-weight="bold" text-anchor="end">0.0</text>
<line x1="552.0" y1="708.3" x2="552.0" y2="714.8" stroke="#000" stroke-width="1.5"/>
<line x1="580.0" y1="708.3" x2="580.0" y2="714.8" stroke="#000" stroke-width="1.5"/>
<line x1="607.8" y1="708.3" x2="607.8" y2="714.8" stroke="#000" stroke-width="1.5"/>
<line x1="635.2" y1="708.3" x2="635.2" y2="714.8" stroke="#000" stroke-width="1.5"/>
<line x1="663.0" y1="708.3" x2="663.0" y2="714.8" stroke="#000" stroke-width="1.5"/>
<text font-size="16.6" font-weight="bold" text-anchor="middle" transform="translate(496.4 608.9) rotate(-90)">Relative R-luc/F-lucratio</text>
<text x="557.5" y="725.8" font-size="15.1" font-weight="bold" text-anchor="end" transform="rotate(-45 557.5 725.8)">blank</text>
<text x="585.5" y="725.8" font-size="15.1" font-weight="bold" text-anchor="end" transform="rotate(-45 585.5 725.8)">mimics NC</text>
<text x="613.3" y="725.8" font-size="15.1" font-weight="bold" text-anchor="end" transform="rotate(-45 613.3 725.8)">miR-889-3p mimcs</text>
<text x="640.7" y="725.8" font-size="15.1" font-weight="bold" text-anchor="end" transform="rotate(-45 640.7 725.8)">inhibitor NC</text>
<text x="668.5" y="725.8" font-size="15.1" font-weight="bold" text-anchor="end" transform="rotate(-45 668.5 725.8)">miR-889-3p inhibitor</text>
<text x="483.5" y="484.5" font-size="17.6" font-weight="bold">ITGA2-3'UTR-mut-psiCHECK2</text>
<path d="M317.3 558.0V539.8H345.1V585.8" stroke="#444" stroke-width="1" fill="none"/>
<text x="331.0" y="538.9" font-size="14" text-anchor="middle" fill="#222" letter-spacing="0.4">***</text>
<path d="M372.9 557.3V526.8H400.7V548.0" stroke="#444" stroke-width="1" fill="none"/>
<text x="384.0" y="525.9" font-size="14" text-anchor="middle" fill="#222" letter-spacing="0.4">***</text>
<text x="760.0" y="461.0" font-size="28" font-weight="bold">d</text>
<text x="864.1" y="485.7" font-size="20" font-weight="bold">Input</text>
<text x="930.8" y="485.7" font-size="20" font-weight="bold">IP</text>
<text x="989.2" y="485.7" font-size="20" font-weight="bold">IgG</text>
<text x="763.1" y="527.5" font-size="20" font-weight="bold">99 kDa</text>
<text x="1054.1" y="529.4" font-size="20.5" font-weight="bold">AGO2</text>
<defs><filter id="bl1" x="-20%" y="-80%" width="140%" height="260%"><feGaussianBlur stdDeviation="1.6 1.3"/></filter></defs>
<rect x="842.8" y="493.3" width="201.4" height="56.3" fill="#c9c9c9" stroke="#444" stroke-width="1"/>
<g filter="url(#bl1)"><rect x="865.0" y="515.6" width="40.8" height="7.4" rx="3.5" fill="#2e2e2e"/><rect x="923.1" y="516.2" width="34.0" height="5.9" rx="3" fill="#353535"/></g>
<line x1="916.5" y1="781.4" x2="916.5" y2="785.2" stroke="#000" stroke-width="1.5"/>
<line x1="906.5" y1="781.4" x2="926.5" y2="781.4" stroke="#000" stroke-width="1.5"/>
<rect x="896.0" y="785.2" width="41.0" height="13.7" fill="#ff2d1e" stroke="#333" stroke-width="1"/>
<line x1="979.6" y1="640.1" x2="979.6" y2="652.4" stroke="#000" stroke-width="1.5"/>
<line x1="969.6" y1="640.1" x2="989.6" y2="640.1" stroke="#000" stroke-width="1.5"/>
<rect x="959.1" y="652.4" width="41.0" height="146.5" fill="#487fbd" stroke="#333" stroke-width="1"/>
<circle cx="903.0" cy="788.0" r="3.6" fill="#000"/>
<circle cx="916.6" cy="782.1" r="3.6" fill="#000"/>
<circle cx="929.9" cy="783.6" r="3.6" fill="#000"/>
<circle cx="979.0" cy="638.7" r="3.6" fill="#000"/>
<circle cx="972.5" cy="659.8" r="3.6" fill="#000"/>
<circle cx="986.1" cy="658.3" r="3.6" fill="#000"/>
<line x1="874.9" y1="579.4" x2="874.9" y2="799.9" stroke="#000" stroke-width="1.9"/>
<line x1="866.4" y1="798.9" x2="1022.2" y2="798.9" stroke="#000" stroke-width="1.9"/>
<line x1="866.4" y1="580.4" x2="874.9" y2="580.4" stroke="#000" stroke-width="1.9"/>
<text x="862.8" y="586.5" font-size="17" font-weight="bold" text-anchor="end">15</text>
<line x1="866.4" y1="653.2" x2="874.9" y2="653.2" stroke="#000" stroke-width="1.9"/>
<text x="862.8" y="659.3" font-size="17" font-weight="bold" text-anchor="end">10</text>
<line x1="866.4" y1="726.1" x2="874.9" y2="726.1" stroke="#000" stroke-width="1.9"/>
<text x="862.8" y="732.2" font-size="17" font-weight="bold" text-anchor="end">5</text>
<line x1="866.4" y1="798.9" x2="874.9" y2="798.9" stroke="#000" stroke-width="1.9"/>
<text x="862.8" y="805.0" font-size="17" font-weight="bold" text-anchor="end">0</text>
<line x1="916.3" y1="798.9" x2="916.3" y2="807.4" stroke="#000" stroke-width="1.9"/>
<line x1="979.3" y1="798.9" x2="979.3" y2="807.4" stroke="#000" stroke-width="1.9"/>
<text font-size="18.1" font-weight="bold" text-anchor="middle" transform="translate(826.5 689.0) rotate(-90)">Relative experssion</text>
<text x="916.3" y="826.7" font-size="16.6" font-weight="bold" text-anchor="middle">IgG</text>
<text x="979.3" y="826.7" font-size="16.6" font-weight="bold" text-anchor="middle">Anti-Ago2</text>
<path d="M915.4 764.3V616.6H978.7V630.2" stroke="#111" stroke-width="1.8" fill="none"/>
<text x="945.7" y="610.4" font-size="14.5" text-anchor="middle" fill="#222" letter-spacing="0.8">****</text>
<text x="1138.0" y="460.0" font-size="28" font-weight="bold">g</text>
<text x="1183.4" y="484.8" font-size="20.6" font-weight="bold">LV-circ_0001599</text>
<text x="1167.4" y="534.5" font-size="20.8" font-weight="bold">miR-889-3p-mimics</text>
<text font-size="21" font-weight="bold" text-anchor="middle" transform="translate(1382.5 477.9) scale(2.7 1)">-</text>
<text font-size="21" font-weight="bold" text-anchor="middle" transform="translate(1382.5 536.9) scale(2.7 1)">-</text>
<text x="1454.2" y="484.2" font-size="42" text-anchor="middle" stroke="#fff" stroke-width="0.9">+</text>
<text font-size="21" font-weight="bold" text-anchor="middle" transform="translate(1454.2 536.9) scale(2.7 1)">-</text>
<text font-size="21" font-weight="bold" text-anchor="middle" transform="translate(1517.0 477.9) scale(2.7 1)">-</text>
<text x="1517.0" y="543.2" font-size="42" text-anchor="middle" stroke="#fff" stroke-width="0.9">+</text>
<text x="1581.9" y="484.2" font-size="42" text-anchor="middle" stroke="#fff" stroke-width="0.9">+</text>
<text x="1581.9" y="543.2" font-size="42" text-anchor="middle" stroke="#fff" stroke-width="0.9">+</text>
<text x="1266.0" y="584.8" font-size="20.5" font-weight="bold" text-anchor="middle">DSPP</text>
<text x="1266.0" y="637.9" font-size="20.5" font-weight="bold" text-anchor="middle">DMP1</text>
<text x="1266.0" y="691.6" font-size="20.5" font-weight="bold" text-anchor="middle">RUNX2</text>
<text x="1266.0" y="746.2" font-size="20.5" font-weight="bold" text-anchor="middle">ALP</text>
<text x="1266.0" y="806.7" font-size="20.5" font-weight="bold" text-anchor="middle">GAPDH</text>
<text x="1626.1" y="583.9" font-size="20.5" font-weight="bold">129 kDa</text>
<text x="1626.1" y="635.9" font-size="20.5" font-weight="bold">54 kDa</text>
<text x="1626.1" y="691.6" font-size="20.5" font-weight="bold">56 kDa</text>
<text x="1626.1" y="746.2" font-size="20.5" font-weight="bold">57 kDa</text>
<text x="1626.1" y="804.0" font-size="20.5" font-weight="bold">36 kDa</text>
<defs><filter id="bl2" x="-20%" y="-100%" width="140%" height="300%"><feGaussianBlur stdDeviation="1.4 1.0"/></filter><filter id="bl3" x="-20%" y="-100%" width="140%" height="300%"><feGaussianBlur stdDeviation="3 2.5"/></filter><filter id="bl4" x="-20%" y="-100%" width="140%" height="300%"><feGaussianBlur stdDeviation="2.2 1.7"/></filter></defs>
<clipPath id="gb0"><rect x="1356.9" y="558.8" width="257.6" height="37.4"/></clipPath>
<rect x="1356.9" y="558.8" width="257.6" height="37.4" fill="#e6e6e6"/>
<g clip-path="url(#gb0)">
<g filter="url(#bl3)">
<rect x="1370.6" y="555.8" width="45.2" height="43.4" fill="#d2d2d2"/>
<rect x="1430.6" y="555.8" width="47.2" height="43.4" fill="#cfcfcf"/>
<rect x="1494.5" y="555.8" width="42.3" height="43.4" fill="#e0e0e0"/>
<rect x="1554.5" y="555.8" width="47.2" height="43.4" fill="#d8d8d8"/>
</g>
<g filter="url(#bl2)">
<rect x="1370.6" y="556.8" width="45.2" height="7" fill="#555" fill-opacity="0.35"/>
<rect x="1430.6" y="556.8" width="47.2" height="7" fill="#555" fill-opacity="0.45"/>
<rect x="1494.5" y="556.8" width="42.3" height="7" fill="#555" fill-opacity="0.12"/>
<rect x="1554.5" y="556.8" width="47.2" height="7" fill="#555" fill-opacity="0.35"/>
<rect x="1371.6" y="567.7" width="41.7" height="3.9" rx="2.0" fill="#1c1c1c" transform="rotate(0.0 1392.5 569.7)"/>
<rect x="1431.6" y="567.1" width="44.2" height="5.1" rx="2.6" fill="#111" transform="rotate(0.0 1453.7 569.7)"/>
<rect x="1495.5" y="568.1" width="40.3" height="2.4" rx="1.2" fill="#7a7a7a" transform="rotate(0.0 1515.7 569.3)"/>
<rect x="1555.5" y="566.3" width="44.2" height="3.5" rx="1.8" fill="#1a1a1a" transform="rotate(-2.5 1577.6 568.1)"/>
</g>
</g>
<rect x="1356.9" y="558.8" width="257.6" height="37.4" fill="none" stroke="#111" stroke-width="1.9"/>
<clipPath id="gb1"><rect x="1357.9" y="612.9" width="257.6" height="35.0"/></clipPath>
<rect x="1357.9" y="612.9" width="257.6" height="35.0" fill="#ebebeb"/>
<g clip-path="url(#gb1)">
<g filter="url(#bl3)">
<rect x="1368.7" y="609.9" width="48.2" height="41.0" fill="#bcbcbc"/>
<rect x="1430.6" y="609.9" width="49.2" height="41.0" fill="#b2b2b2"/>
<rect x="1492.5" y="609.9" width="48.2" height="41.0" fill="#cccccc"/>
<rect x="1554.5" y="609.9" width="51.1" height="41.0" fill="#bebebe"/>
</g>
<g filter="url(#bl2)">
<rect x="1370.6" y="628.6" width="44.2" height="7.9" rx="3.9" fill="#303030" transform="rotate(0.0 1392.8 632.6)"/>
<rect x="1432.6" y="628.5" width="44.2" height="13.0" rx="6.5" fill="#000" transform="rotate(0.0 1454.7 634.9)"/>
<rect x="1494.5" y="629.0" width="44.2" height="7.1" rx="3.5" fill="#9a9a9a" transform="rotate(0.0 1516.6 632.6)"/>
<rect x="1556.4" y="628.3" width="47.2" height="8.7" rx="4.3" fill="#181818" transform="rotate(-9.5 1580.0 632.6)"/>
</g>
<path d="M1357.9 640.8Q1373.6 644.4 1389.3 647.9H1357.9Z" fill="#fff" stroke="#111" stroke-width="0.8"/>
</g>
<rect x="1357.9" y="612.9" width="257.6" height="35.0" fill="none" stroke="#111" stroke-width="1.9"/>
<clipPath id="gb2"><rect x="1357.9" y="663.6" width="257.6" height="41.7"/></clipPath>
<rect x="1357.9" y="663.6" width="257.6" height="41.7" fill="#f3f3f3"/>
<g clip-path="url(#gb2)">
<g filter="url(#bl3)">
</g>
<g filter="url(#bl4)">
<rect x="1374.0" y="684.1" width="42.5" height="9.0" rx="4.5" fill="#050505" transform="rotate(-2.1 1395.2 688.6)"/>
<rect x="1430.0" y="681.5" width="47.4" height="11.0" rx="5.5" fill="#000" transform="rotate(0.0 1453.7 687.0)"/>
<rect x="1492.0" y="683.5" width="43.5" height="6.3" rx="3.1" fill="#0c0c0c" transform="rotate(-1.6 1513.7 686.6)"/>
<rect x="1550.0" y="682.5" width="46.4" height="7.5" rx="3.7" fill="#050505" transform="rotate(0.0 1573.2 686.3)"/>
</g>
</g>
<rect x="1357.9" y="663.6" width="257.6" height="41.7" fill="none" stroke="#111" stroke-width="1.9"/>
<clipPath id="gb3"><rect x="1357.9" y="721.1" width="257.6" height="37.0"/></clipPath>
<rect x="1357.9" y="721.1" width="257.6" height="37.0" fill="#ececec"/>
<g clip-path="url(#gb3)">
<g filter="url(#bl3)">
<rect x="1605.6" y="721.1" width="9.8" height="37.0" fill="#b0b0b0"/>
</g>
<g filter="url(#bl4)">
<rect x="1372.6" y="737.4" width="44.8" height="6.7" rx="3.3" fill="#000" transform="rotate(1.5 1395.0 740.7)"/>
<rect x="1428.1" y="737.6" width="50.3" height="10.2" rx="5.1" fill="#000" transform="rotate(0.0 1453.2 742.7)"/>
<rect x="1489.0" y="737.8" width="44.4" height="6.7" rx="3.3" fill="#000" transform="rotate(-1.0 1511.2 741.1)"/>
<rect x="1543.1" y="735.0" width="49.4" height="8.7" rx="4.3" fill="#000" transform="rotate(0.0 1567.8 739.3)"/>
</g>
</g>
<rect x="1357.9" y="721.1" width="257.6" height="37.0" fill="none" stroke="#111" stroke-width="1.9"/>
<clipPath id="gb4"><rect x="1357.9" y="778.1" width="257.6" height="41.3"/></clipPath>
<rect x="1357.9" y="778.1" width="257.6" height="41.3" fill="#f1f1f1"/>
<g clip-path="url(#gb4)">
<g filter="url(#bl3)">
</g>
<g filter="url(#bl4)">
<rect x="1374.0" y="794.2" width="45.4" height="13.8" rx="6.9" fill="#000" transform="rotate(0.0 1396.7 801.1)"/>
<rect x="1432.0" y="795.4" width="47.4" height="13.4" rx="6.7" fill="#000" transform="rotate(0.0 1455.7 802.1)"/>
<rect x="1490.0" y="792.8" width="50.3" height="14.5" rx="7.3" fill="#000" transform="rotate(0.0 1515.2 800.1)"/>
<rect x="1550.0" y="788.3" width="47.4" height="17.3" rx="8.7" fill="#000" transform="rotate(0.0 1573.7 797.0)"/>
</g>
</g>
<rect x="1357.9" y="778.1" width="257.6" height="41.3" fill="none" stroke="#111" stroke-width="1.9"/>
<rect x="1881.3" y="476.6" width="19.3" height="7.3" fill="#e3f3f3" stroke="#222" stroke-width="1.0"/>
<rect x="1881.3" y="501.1" width="19.3" height="7.3" fill="#f2e08e" stroke="#222" stroke-width="1.0"/>
<rect x="1881.3" y="525.5" width="19.3" height="7.3" fill="#ff2d1e" stroke="#222" stroke-width="1.0"/>
<rect x="1881.3" y="558.4" width="19.3" height="7.3" fill="#487fbd" stroke="#222" stroke-width="1.0"/>
<text x="1912.4" y="484.9" font-size="13.75" font-weight="bold">NC</text>
<text x="1912.4" y="509.4" font-size="13.75" font-weight="bold">LV-circ_0001599</text>
<text x="1912.4" y="533.9" font-size="13.75" font-weight="bold">miR-889-3p-mimics</text>
<text x="1912.4" y="559.2" font-size="13.75" font-weight="bold">LV-circ_0001599+</text>
<text x="1912.4" y="575.0" font-size="13.75" font-weight="bold">miR-889-3p-mimics</text>
<line x1="1781.9" y1="720.3" x2="1781.9" y2="721.5" stroke="#000" stroke-width="1.3"/>
<line x1="1779.2" y1="720.3" x2="1784.7" y2="720.3" stroke="#000" stroke-width="1.3"/>
<rect x="1777.1" y="721.5" width="9.6" height="61.0" fill="#e3f3f3" stroke="#222" stroke-width="0.9"/>
<circle cx="1781.9" cy="729.4" r="1.0" fill="#000"/>
<line x1="1796.7" y1="669.0" x2="1796.7" y2="689.2" stroke="#000" stroke-width="1.3"/>
<line x1="1794.0" y1="669.0" x2="1799.5" y2="669.0" stroke="#000" stroke-width="1.3"/>
<rect x="1791.9" y="689.2" width="9.6" height="93.3" fill="#f2e08e" stroke="#222" stroke-width="0.9"/>
<circle cx="1796.7" cy="701.9" r="1.0" fill="#000"/>
<line x1="1811.7" y1="750.8" x2="1811.7" y2="758.1" stroke="#000" stroke-width="1.3"/>
<line x1="1809.0" y1="750.8" x2="1814.5" y2="750.8" stroke="#000" stroke-width="1.3"/>
<rect x="1806.9" y="758.1" width="9.6" height="24.4" fill="#ff2d1e" stroke="#222" stroke-width="0.9"/>
<circle cx="1811.7" cy="760.5" r="1.0" fill="#000"/>
<line x1="1826.6" y1="737.4" x2="1826.6" y2="740.4" stroke="#000" stroke-width="1.3"/>
<line x1="1823.9" y1="737.4" x2="1829.4" y2="737.4" stroke="#000" stroke-width="1.3"/>
<rect x="1821.8" y="740.4" width="9.6" height="42.1" fill="#487fbd" stroke="#222" stroke-width="0.9"/>
<circle cx="1826.6" cy="745.5" r="1.0" fill="#000"/>
<line x1="1851.3" y1="719.7" x2="1851.3" y2="723.9" stroke="#000" stroke-width="1.3"/>
<line x1="1848.5" y1="719.7" x2="1854.0" y2="719.7" stroke="#000" stroke-width="1.3"/>
<rect x="1846.5" y="723.9" width="9.6" height="58.6" fill="#e3f3f3" stroke="#222" stroke-width="0.9"/>
<circle cx="1851.3" cy="731.5" r="1.0" fill="#000"/>
<line x1="1866.1" y1="686.7" x2="1866.1" y2="696.2" stroke="#000" stroke-width="1.3"/>
<line x1="1863.3" y1="686.7" x2="1868.8" y2="686.7" stroke="#000" stroke-width="1.3"/>
<rect x="1861.3" y="696.2" width="9.6" height="86.3" fill="#f2e08e" stroke="#222" stroke-width="0.9"/>
<circle cx="1866.1" cy="707.9" r="1.0" fill="#000"/>
<line x1="1881.1" y1="749.0" x2="1881.1" y2="753.8" stroke="#000" stroke-width="1.3"/>
<line x1="1878.3" y1="749.0" x2="1883.8" y2="749.0" stroke="#000" stroke-width="1.3"/>
<rect x="1876.3" y="753.8" width="9.6" height="28.7" fill="#ff2d1e" stroke="#222" stroke-width="0.9"/>
<circle cx="1881.1" cy="756.9" r="1.0" fill="#000"/>
<line x1="1896.0" y1="736.1" x2="1896.0" y2="742.9" stroke="#000" stroke-width="1.3"/>
<line x1="1893.2" y1="736.1" x2="1898.8" y2="736.1" stroke="#000" stroke-width="1.3"/>
<rect x="1891.2" y="742.9" width="9.6" height="39.6" fill="#487fbd" stroke="#222" stroke-width="0.9"/>
<circle cx="1896.0" cy="747.6" r="1.0" fill="#000"/>
<line x1="1920.9" y1="721.5" x2="1920.9" y2="721.5" stroke="#000" stroke-width="1.3"/>
<line x1="1918.2" y1="721.5" x2="1923.7" y2="721.5" stroke="#000" stroke-width="1.3"/>
<rect x="1916.1" y="721.5" width="9.6" height="61.0" fill="#e3f3f3" stroke="#222" stroke-width="0.9"/>
<circle cx="1920.9" cy="729.4" r="1.0" fill="#000"/>
<line x1="1935.7" y1="684.9" x2="1935.7" y2="694.5" stroke="#000" stroke-width="1.3"/>
<line x1="1933.0" y1="684.9" x2="1938.5" y2="684.9" stroke="#000" stroke-width="1.3"/>
<rect x="1930.9" y="694.5" width="9.6" height="88.0" fill="#f2e08e" stroke="#222" stroke-width="0.9"/>
<circle cx="1935.7" cy="706.5" r="1.0" fill="#000"/>
<line x1="1950.7" y1="740.4" x2="1950.7" y2="744.1" stroke="#000" stroke-width="1.3"/>
<line x1="1948.0" y1="740.4" x2="1953.5" y2="740.4" stroke="#000" stroke-width="1.3"/>
<rect x="1945.9" y="744.1" width="9.6" height="38.4" fill="#ff2d1e" stroke="#222" stroke-width="0.9"/>
<circle cx="1950.7" cy="748.6" r="1.0" fill="#000"/>
<line x1="1965.6" y1="728.2" x2="1965.6" y2="736.4" stroke="#000" stroke-width="1.3"/>
<line x1="1962.9" y1="728.2" x2="1968.4" y2="728.2" stroke="#000" stroke-width="1.3"/>
<rect x="1960.8" y="736.4" width="9.6" height="46.1" fill="#487fbd" stroke="#222" stroke-width="0.9"/>
<circle cx="1965.6" cy="742.1" r="1.0" fill="#000"/>
<line x1="1990.9" y1="719.7" x2="1990.9" y2="721.5" stroke="#000" stroke-width="1.3"/>
<line x1="1988.2" y1="719.7" x2="1993.7" y2="719.7" stroke="#000" stroke-width="1.3"/>
<rect x="1986.1" y="721.5" width="9.6" height="61.0" fill="#e3f3f3" stroke="#222" stroke-width="0.9"/>
<circle cx="1990.9" cy="729.4" r="1.0" fill="#000"/>
<line x1="2005.7" y1="681.9" x2="2005.7" y2="686.7" stroke="#000" stroke-width="1.3"/>
<line x1="2003.0" y1="681.9" x2="2008.5" y2="681.9" stroke="#000" stroke-width="1.3"/>
<rect x="2000.9" y="686.7" width="9.6" height="95.8" fill="#f2e08e" stroke="#222" stroke-width="0.9"/>
<circle cx="2005.7" cy="699.9" r="1.0" fill="#000"/>
<line x1="2020.7" y1="733.7" x2="2020.7" y2="739.2" stroke="#000" stroke-width="1.3"/>
<line x1="2018.0" y1="733.7" x2="2023.5" y2="733.7" stroke="#000" stroke-width="1.3"/>
<rect x="2015.9" y="739.2" width="9.6" height="43.3" fill="#ff2d1e" stroke="#222" stroke-width="0.9"/>
<circle cx="2020.7" cy="744.5" r="1.0" fill="#000"/>
<line x1="2035.6" y1="723.9" x2="2035.6" y2="728.2" stroke="#000" stroke-width="1.3"/>
<line x1="2032.9" y1="723.9" x2="2038.4" y2="723.9" stroke="#000" stroke-width="1.3"/>
<rect x="2030.8" y="728.2" width="9.6" height="54.3" fill="#487fbd" stroke="#222" stroke-width="0.9"/>
<circle cx="2035.6" cy="735.1" r="1.0" fill="#000"/>
<line x1="1771.1" y1="598.7" x2="1771.1" y2="783.3" stroke="#000" stroke-width="1.6"/>
<line x1="1764.6" y1="782.5" x2="2045.6" y2="782.5" stroke="#000" stroke-width="1.6"/>
<line x1="1764.6" y1="599.5" x2="1771.1" y2="599.5" stroke="#000" stroke-width="1.6"/>
<text x="1762.0" y="604.7" font-size="14.5" font-weight="bold" text-anchor="end">3</text>
<line x1="1764.6" y1="660.5" x2="1771.1" y2="660.5" stroke="#000" stroke-width="1.6"/>
<text x="1762.0" y="665.7" font-size="14.5" font-weight="bold" text-anchor="end">2</text>
<line x1="1764.6" y1="721.5" x2="1771.1" y2="721.5" stroke="#000" stroke-width="1.6"/>
<text x="1762.0" y="726.7" font-size="14.5" font-weight="bold" text-anchor="end">1</text>
<line x1="1764.6" y1="782.5" x2="1771.1" y2="782.5" stroke="#000" stroke-width="1.6"/>
<text x="1762.0" y="787.7" font-size="14.5" font-weight="bold" text-anchor="end">0</text>
<line x1="1804.2" y1="782.5" x2="1804.2" y2="789.0" stroke="#000" stroke-width="1.6"/>
<line x1="1873.6" y1="782.5" x2="1873.6" y2="789.0" stroke="#000" stroke-width="1.6"/>
<line x1="1943.2" y1="782.5" x2="1943.2" y2="789.0" stroke="#000" stroke-width="1.6"/>
<line x1="2013.2" y1="782.5" x2="2013.2" y2="789.0" stroke="#000" stroke-width="1.6"/>
<text font-size="15" font-weight="bold" text-anchor="middle" transform="translate(1741.4 690.5) rotate(-90)">The ratio of protein</text>
<text x="1804.2" y="804.8" font-size="14" font-weight="bold" text-anchor="middle">DSPP</text>
<text x="1873.6" y="804.8" font-size="14" font-weight="bold" text-anchor="middle">DMP1</text>
<text x="1943.2" y="804.8" font-size="14" font-weight="bold" text-anchor="middle">RUNX2</text>
<text x="2013.2" y="804.8" font-size="14" font-weight="bold" text-anchor="middle">ALP</text>
<path d="M1781.9 716.3V652.4H1796.7V664.5" stroke="#111" stroke-width="1.8" fill="none"/>
<text x="1789.3" y="648.7" font-size="12" font-weight="bold" text-anchor="middle" fill="#222" letter-spacing="0.9">*</text>
<path d="M1781.9 643.5V634.9H1811.7V749.4" stroke="#111" stroke-width="1.8" fill="none"/>
<text x="1790.3" y="629.4" font-size="12" font-weight="bold" text-anchor="middle" fill="#222" letter-spacing="0.9">**</text>
<path d="M1796.7 616.2V612.1H1826.6V733.6" stroke="#111" stroke-width="1.8" fill="none"/>
<text x="1805.2" y="608.7" font-size="12" font-weight="bold" text-anchor="middle" fill="#222" letter-spacing="0.9">**</text>
<path d="M1851.3 716.3V666.0H1866.1V678.9" stroke="#111" stroke-width="1.8" fill="none"/>
<text x="1858.7" y="661.1" font-size="12" font-weight="bold" text-anchor="middle" fill="#222" letter-spacing="0.9">**</text>
<path d="M1851.3 642.9V634.3H1881.1V748.0" stroke="#111" stroke-width="1.8" fill="none"/>
<text x="1859.7" y="630.0" font-size="12" font-weight="bold" text-anchor="middle" fill="#222" letter-spacing="0.9">**</text>
<path d="M1866.1 616.2V612.1H1896.0V727.9" stroke="#111" stroke-width="1.8" fill="none"/>
<text x="1874.6" y="608.7" font-size="12" font-weight="bold" text-anchor="middle" fill="#222" letter-spacing="0.9">***</text>
<path d="M1920.9 716.3V663.9H1935.7V677.5" stroke="#111" stroke-width="1.8" fill="none"/>
<text x="1928.3" y="659.4" font-size="12" font-weight="bold" text-anchor="middle" fill="#222" letter-spacing="0.9">**</text>
<path d="M1920.9 642.9V634.3H1950.7V737.9" stroke="#111" stroke-width="1.8" fill="none"/>
<text x="1929.3" y="630.0" font-size="12" font-weight="bold" text-anchor="middle" fill="#222" letter-spacing="0.9">**</text>
<path d="M1935.7 616.2V612.1H1965.6V722.1" stroke="#111" stroke-width="1.8" fill="none"/>
<text x="1944.2" y="609.3" font-size="12" font-weight="bold" text-anchor="middle" fill="#222" letter-spacing="0.9">**</text>
<path d="M1990.9 716.3V660.2H2005.7V676.0" stroke="#111" stroke-width="1.8" fill="none"/>
<text x="1998.3" y="655.4" font-size="12" font-weight="bold" text-anchor="middle" fill="#222" letter-spacing="0.9">***</text>
<path d="M1990.9 640.6V632.0H2020.7V727.9" stroke="#111" stroke-width="1.8" fill="none"/>
<text x="1999.3" y="630.0" font-size="12" font-weight="bold" text-anchor="middle" fill="#222" letter-spacing="0.9">**</text>
<path d="M2005.7 616.2V612.1H2035.6V712.0" stroke="#111" stroke-width="1.8" fill="none"/>
<text x="2014.2" y="609.3" font-size="12" font-weight="bold" text-anchor="middle" fill="#222" letter-spacing="0.9">***</text>
<text x="9.5" y="890.5" font-size="28" font-weight="bold">e</text>
<rect x="247.3" y="878.0" width="17.1" height="5.5" fill="#e3f3f3" stroke="#222" stroke-width="0.9"/>
<text x="274.7" y="884.9" font-size="11.6" font-weight="bold">LV-NC+mimics-NC</text>
<rect x="247.3" y="900.2" width="17.1" height="5.5" fill="#f2e08e" stroke="#222" stroke-width="0.9"/>
<text x="274.7" y="907.1" font-size="11.6" font-weight="bold">LV-circ1599+mimics-NC</text>
<rect x="247.3" y="922.2" width="17.1" height="5.5" fill="#ff2d1e" stroke="#222" stroke-width="0.9"/>
<text x="274.7" y="929.1" font-size="11.6" font-weight="bold">miR-889-3p-mimics+LV-NC</text>
<rect x="247.3" y="944.2" width="17.1" height="5.5" fill="#487fbd" stroke="#222" stroke-width="0.9"/>
<text x="274.7" y="951.1" font-size="11.6" font-weight="bold">LV-circ1599+miR-889-3p-mimics</text>
<text x="205.8" y="917.8" font-size="11.3" font-weight="bold">7 days</text>
<rect x="102.5" y="1039.0" width="37.1" height="81.3" fill="#e3f3f3" stroke="#333" stroke-width="1"/>
<line x1="177.5" y1="967.5" x2="177.5" y2="976.4" stroke="#000" stroke-width="1.6"/>
<line x1="168.5" y1="967.5" x2="186.5" y2="967.5" stroke="#000" stroke-width="1.6"/>
<rect x="158.9" y="976.4" width="37.1" height="143.9" fill="#f2e08e" stroke="#333" stroke-width="1"/>
<line x1="233.9" y1="1043.9" x2="233.9" y2="1052.8" stroke="#000" stroke-width="1.6"/>
<line x1="224.9" y1="1043.9" x2="242.9" y2="1043.9" stroke="#000" stroke-width="1.6"/>
<rect x="215.3" y="1052.8" width="37.1" height="67.5" fill="#ff2d1e" stroke="#333" stroke-width="1"/>
<line x1="290.2" y1="1010.5" x2="290.2" y2="1017.9" stroke="#000" stroke-width="1.6"/>
<line x1="281.2" y1="1010.5" x2="299.2" y2="1010.5" stroke="#000" stroke-width="1.6"/>
<rect x="271.6" y="1017.9" width="37.1" height="102.4" fill="#487fbd" stroke="#333" stroke-width="1"/>
<circle cx="111.3" cy="1039.8" r="2.5" fill="#000"/>
<circle cx="121.3" cy="1038.2" r="2.5" fill="#000"/>
<circle cx="131.1" cy="1039.0" r="2.5" fill="#000"/>
<circle cx="177.5" cy="967.5" r="2.5" fill="#000"/>
<circle cx="177.5" cy="975.6" r="2.5" fill="#000"/>
<circle cx="177.5" cy="986.2" r="2.5" fill="#000"/>
<circle cx="233.6" cy="1043.5" r="2.5" fill="#000"/>
<circle cx="238.5" cy="1055.3" r="2.5" fill="#000"/>
<circle cx="228.8" cy="1058.9" r="2.5" fill="#000"/>
<circle cx="285.2" cy="1011.4" r="2.5" fill="#000"/>
<circle cx="294.9" cy="1016.6" r="2.5" fill="#000"/>
<circle cx="290.0" cy="1026.0" r="2.5" fill="#000"/>
<line x1="83.7" y1="956.9" x2="83.7" y2="1121.1" stroke="#000" stroke-width="1.7"/>
<line x1="78.7" y1="1120.3" x2="328.0" y2="1120.3" stroke="#000" stroke-width="1.7"/>
<line x1="78.2" y1="957.7" x2="83.7" y2="957.7" stroke="#000" stroke-width="1.7"/>
<text x="77.8" y="962.2" font-size="12.6" font-weight="bold" text-anchor="end">2.0</text>
<line x1="78.2" y1="998.4" x2="83.7" y2="998.4" stroke="#000" stroke-width="1.7"/>
<text x="77.8" y="1002.9" font-size="12.6" font-weight="bold" text-anchor="end">1.5</text>
<line x1="78.2" y1="1039.0" x2="83.7" y2="1039.0" stroke="#000" stroke-width="1.7"/>
<text x="77.8" y="1043.5" font-size="12.6" font-weight="bold" text-anchor="end">1.0</text>
<line x1="78.2" y1="1079.7" x2="83.7" y2="1079.7" stroke="#000" stroke-width="1.7"/>
<text x="77.8" y="1084.2" font-size="12.6" font-weight="bold" text-anchor="end">0.5</text>
<line x1="78.2" y1="1120.3" x2="83.7" y2="1120.3" stroke="#000" stroke-width="1.7"/>
<text x="77.8" y="1124.8" font-size="12.6" font-weight="bold" text-anchor="end">0.0</text>
<line x1="121.0" y1="1120.3" x2="121.0" y2="1125.3" stroke="#000" stroke-width="1.7"/>
<line x1="177.5" y1="1120.3" x2="177.5" y2="1125.3" stroke="#000" stroke-width="1.7"/>
<line x1="233.9" y1="1120.3" x2="233.9" y2="1125.3" stroke="#000" stroke-width="1.7"/>
<line x1="290.2" y1="1120.3" x2="290.2" y2="1125.3" stroke="#000" stroke-width="1.7"/>
<text font-size="12.25" font-weight="bold" text-anchor="middle" transform="translate(47.1 1036.8) rotate(-90)">Relative mRNA expression</text>
<path d="M121.3 1027.2V945.9H177.5V956.9" stroke="#444" stroke-width="0.9" fill="none"/>
<text x="147.2" y="939.8" font-size="11.5" text-anchor="middle" fill="#222" letter-spacing="0.8">***</text>
<path d="M233.6 1033.8V990.6H290.0V1001.1" stroke="#444" stroke-width="0.9" fill="none"/>
<text x="259.3" y="984.0" font-size="11.5" text-anchor="middle" fill="#222" letter-spacing="0.8">**</text>
<rect x="722.0" y="873.1" width="17.5" height="5.6" fill="#e3f3f3" stroke="#222" stroke-width="0.9"/>
<text x="749.7" y="880.1" font-size="11.7" font-weight="bold">LV-NC+mimics-NC</text>
<rect x="722.0" y="895.2" width="17.5" height="5.6" fill="#f2e08e" stroke="#222" stroke-width="0.9"/>
<text x="749.7" y="902.2" font-size="11.7" font-weight="bold">LV-circ1599+mimics-NC</text>
<rect x="722.0" y="917.5" width="17.5" height="5.6" fill="#ff2d1e" stroke="#222" stroke-width="0.9"/>
<text x="749.7" y="924.5" font-size="11.7" font-weight="bold">miR-889-3p-mimics+LV-NC</text>
<rect x="722.0" y="939.9" width="17.5" height="5.6" fill="#487fbd" stroke="#222" stroke-width="0.9"/>
<text x="749.7" y="946.9" font-size="11.7" font-weight="bold">LV-circ1599+miR-889-3p-mimics</text>
<text x="663.6" y="914.2" font-size="11.7" font-weight="bold">14 days</text>
<rect x="568.3" y="1104.3" width="37.9" height="16.5" fill="#e3f3f3" stroke="#333" stroke-width="1"/>
<line x1="644.5" y1="996.3" x2="644.5" y2="1019.3" stroke="#000" stroke-width="1.6"/>
<line x1="635.5" y1="996.3" x2="653.5" y2="996.3" stroke="#000" stroke-width="1.6"/>
<rect x="625.5" y="1019.3" width="37.9" height="101.5" fill="#f2e08e" stroke="#333" stroke-width="1"/>
<line x1="701.9" y1="1113.4" x2="701.9" y2="1115.4" stroke="#000" stroke-width="1.6"/>
<line x1="692.9" y1="1113.4" x2="710.9" y2="1113.4" stroke="#000" stroke-width="1.6"/>
<rect x="682.9" y="1115.4" width="37.9" height="5.4" fill="#ff2d1e" stroke="#333" stroke-width="1"/>
<line x1="759.3" y1="1094.4" x2="759.3" y2="1098.5" stroke="#000" stroke-width="1.6"/>
<line x1="750.3" y1="1094.4" x2="768.3" y2="1094.4" stroke="#000" stroke-width="1.6"/>
<rect x="740.3" y="1098.5" width="37.9" height="22.3" fill="#487fbd" stroke="#333" stroke-width="1"/>
<circle cx="577.0" cy="1104.6" r="2.5" fill="#000"/>
<circle cx="587.2" cy="1104.3" r="2.5" fill="#000"/>
<circle cx="597.1" cy="1104.3" r="2.5" fill="#000"/>
<circle cx="644.6" cy="993.7" r="2.5" fill="#000"/>
<circle cx="644.6" cy="1025.4" r="2.5" fill="#000"/>
<circle cx="644.6" cy="1038.6" r="2.5" fill="#000"/>
<circle cx="692.0" cy="1116.3" r="2.5" fill="#000"/>
<circle cx="701.9" cy="1113.5" r="2.5" fill="#000"/>
<circle cx="711.6" cy="1115.8" r="2.5" fill="#000"/>
<circle cx="759.3" cy="1094.1" r="2.5" fill="#000"/>
<circle cx="754.3" cy="1101.3" r="2.5" fill="#000"/>
<circle cx="764.2" cy="1099.7" r="2.5" fill="#000"/>
<line x1="548.6" y1="954.9" x2="548.6" y2="1121.6" stroke="#000" stroke-width="1.7"/>
<line x1="543.6" y1="1120.8" x2="798.4" y2="1120.8" stroke="#000" stroke-width="1.7"/>
<line x1="543.1" y1="955.7" x2="548.6" y2="955.7" stroke="#000" stroke-width="1.7"/>
<text x="542.4" y="960.4" font-size="13" font-weight="bold" text-anchor="end">10</text>
<line x1="543.1" y1="988.7" x2="548.6" y2="988.7" stroke="#000" stroke-width="1.7"/>
<text x="542.4" y="993.4" font-size="13" font-weight="bold" text-anchor="end">8</text>
<line x1="543.1" y1="1021.7" x2="548.6" y2="1021.7" stroke="#000" stroke-width="1.7"/>
<text x="542.4" y="1026.4" font-size="13" font-weight="bold" text-anchor="end">6</text>
<line x1="543.1" y1="1054.8" x2="548.6" y2="1054.8" stroke="#000" stroke-width="1.7"/>
<text x="542.4" y="1059.4" font-size="13" font-weight="bold" text-anchor="end">4</text>
<line x1="543.1" y1="1087.8" x2="548.6" y2="1087.8" stroke="#000" stroke-width="1.7"/>
<text x="542.4" y="1092.4" font-size="13" font-weight="bold" text-anchor="end">2</text>
<line x1="543.1" y1="1120.8" x2="548.6" y2="1120.8" stroke="#000" stroke-width="1.7"/>
<text x="542.4" y="1125.5" font-size="13" font-weight="bold" text-anchor="end">0</text>
<line x1="587.3" y1="1120.8" x2="587.3" y2="1125.8" stroke="#000" stroke-width="1.7"/>
<line x1="644.5" y1="1120.8" x2="644.5" y2="1125.8" stroke="#000" stroke-width="1.7"/>
<line x1="701.9" y1="1120.8" x2="701.9" y2="1125.8" stroke="#000" stroke-width="1.7"/>
<line x1="759.3" y1="1120.8" x2="759.3" y2="1125.8" stroke="#000" stroke-width="1.7"/>
<text font-size="12.4" font-weight="bold" text-anchor="middle" transform="translate(514.1 1037.7) rotate(-90)">Relative expression of mRNA</text>
<path d="M587.2 1087.3V963.4H644.6V977.3" stroke="#444" stroke-width="0.9" fill="none"/>
<text x="614.6" y="958.8" font-size="11.5" text-anchor="middle" fill="#222" letter-spacing="0.8">**</text>
<path d="M701.7 1100.0V1065.7H759.3V1077.9" stroke="#444" stroke-width="0.9" fill="none"/>
<text x="729.1" y="1059.6" font-size="11.5" text-anchor="middle" fill="#222" letter-spacing="0.8">**</text>
<text x="10.0" y="1176.4" font-size="28" font-weight="bold">f</text>
<rect x="252.0" y="1152.0" width="18.0" height="6.8" fill="#e3f3f3" stroke="#222" stroke-width="0.9"/>
<text x="280.8" y="1160.2" font-size="13.3" font-weight="bold">LV-NC+mimics-NC</text>
<rect x="252.0" y="1175.4" width="18.0" height="6.8" fill="#f2e08e" stroke="#222" stroke-width="0.9"/>
<text x="280.8" y="1183.6" font-size="13.3" font-weight="bold">LV-circ1599+mimics-NC</text>
<rect x="252.0" y="1199.4" width="18.0" height="6.8" fill="#ff2d1e" stroke="#222" stroke-width="0.9"/>
<text x="280.8" y="1207.5" font-size="13.3" font-weight="bold">miR-889-3p-mimics+LV-NC</text>
<rect x="252.0" y="1222.8" width="18.0" height="6.8" fill="#487fbd" stroke="#222" stroke-width="0.9"/>
<text x="280.8" y="1231.0" font-size="13.3" font-weight="bold">LV-circ1599+miR-889-3p-mimics</text>
<text x="204.0" y="1194.9" font-size="12.9" font-weight="bold">7 days</text>
<line x1="92.0" y1="1366.5" x2="92.0" y2="1366.9" stroke="#000" stroke-width="1.5"/>
<line x1="89.5" y1="1366.5" x2="94.5" y2="1366.5" stroke="#000" stroke-width="1.5"/>
<rect x="87.5" y="1366.9" width="9.1" height="35.1" fill="#e3f3f3" stroke="#222" stroke-width="0.9"/>
<circle cx="92.0" cy="1376.7" r="0.9" fill="#000"/>
<line x1="106.4" y1="1337.4" x2="106.4" y2="1341.6" stroke="#000" stroke-width="1.5"/>
<line x1="103.9" y1="1337.4" x2="108.9" y2="1337.4" stroke="#000" stroke-width="1.5"/>
<rect x="101.9" y="1341.6" width="9.1" height="60.4" fill="#f2e08e" stroke="#222" stroke-width="0.9"/>
<circle cx="106.4" cy="1358.5" r="0.9" fill="#000"/>
<line x1="120.8" y1="1367.2" x2="120.8" y2="1372.9" stroke="#000" stroke-width="1.5"/>
<line x1="118.3" y1="1367.2" x2="123.3" y2="1367.2" stroke="#000" stroke-width="1.5"/>
<rect x="116.3" y="1372.9" width="9.1" height="29.1" fill="#ff2d1e" stroke="#222" stroke-width="0.9"/>
<circle cx="120.8" cy="1381.0" r="0.9" fill="#000"/>
<line x1="135.0" y1="1362.0" x2="135.0" y2="1364.1" stroke="#000" stroke-width="1.5"/>
<line x1="132.5" y1="1362.0" x2="137.5" y2="1362.0" stroke="#000" stroke-width="1.5"/>
<rect x="130.5" y="1364.1" width="9.1" height="37.9" fill="#487fbd" stroke="#222" stroke-width="0.9"/>
<circle cx="135.0" cy="1374.7" r="0.9" fill="#000"/>
<line x1="159.2" y1="1365.1" x2="159.2" y2="1366.9" stroke="#000" stroke-width="1.5"/>
<line x1="156.7" y1="1365.1" x2="161.7" y2="1365.1" stroke="#000" stroke-width="1.5"/>
<rect x="154.6" y="1366.9" width="9.1" height="35.1" fill="#e3f3f3" stroke="#222" stroke-width="0.9"/>
<circle cx="159.2" cy="1376.7" r="0.9" fill="#000"/>
<line x1="173.6" y1="1286.1" x2="173.6" y2="1314.2" stroke="#000" stroke-width="1.5"/>
<line x1="171.1" y1="1286.1" x2="176.1" y2="1286.1" stroke="#000" stroke-width="1.5"/>
<rect x="169.0" y="1314.2" width="9.1" height="87.8" fill="#f2e08e" stroke="#222" stroke-width="0.9"/>
<circle cx="173.6" cy="1338.8" r="0.9" fill="#000"/>
<line x1="188.0" y1="1374.3" x2="188.0" y2="1380.9" stroke="#000" stroke-width="1.5"/>
<line x1="185.5" y1="1374.3" x2="190.5" y2="1374.3" stroke="#000" stroke-width="1.5"/>
<rect x="183.4" y="1380.9" width="9.1" height="21.1" fill="#ff2d1e" stroke="#222" stroke-width="0.9"/>
<circle cx="188.0" cy="1386.8" r="0.9" fill="#000"/>
<line x1="202.1" y1="1343.7" x2="202.1" y2="1351.8" stroke="#000" stroke-width="1.5"/>
<line x1="199.6" y1="1343.7" x2="204.6" y2="1343.7" stroke="#000" stroke-width="1.5"/>
<rect x="197.6" y="1351.8" width="9.1" height="50.2" fill="#487fbd" stroke="#222" stroke-width="0.9"/>
<circle cx="202.1" cy="1365.8" r="0.9" fill="#000"/>
<line x1="226.3" y1="1365.1" x2="226.3" y2="1366.9" stroke="#000" stroke-width="1.5"/>
<line x1="223.8" y1="1365.1" x2="228.8" y2="1365.1" stroke="#000" stroke-width="1.5"/>
<rect x="221.8" y="1366.9" width="9.1" height="35.1" fill="#e3f3f3" stroke="#222" stroke-width="0.9"/>
<circle cx="226.3" cy="1376.7" r="0.9" fill="#000"/>
<line x1="240.7" y1="1327.5" x2="240.7" y2="1342.3" stroke="#000" stroke-width="1.5"/>
<line x1="238.2" y1="1327.5" x2="243.2" y2="1327.5" stroke="#000" stroke-width="1.5"/>
<rect x="236.2" y="1342.3" width="9.1" height="59.7" fill="#f2e08e" stroke="#222" stroke-width="0.9"/>
<circle cx="240.7" cy="1359.0" r="0.9" fill="#000"/>
<line x1="255.1" y1="1366.9" x2="255.1" y2="1368.6" stroke="#000" stroke-width="1.5"/>
<line x1="252.6" y1="1366.9" x2="257.6" y2="1366.9" stroke="#000" stroke-width="1.5"/>
<rect x="250.6" y="1368.6" width="9.1" height="33.4" fill="#ff2d1e" stroke="#222" stroke-width="0.9"/>
<circle cx="255.1" cy="1378.0" r="0.9" fill="#000"/>
<line x1="269.3" y1="1343.0" x2="269.3" y2="1350.4" stroke="#000" stroke-width="1.5"/>
<line x1="266.8" y1="1343.0" x2="271.8" y2="1343.0" stroke="#000" stroke-width="1.5"/>
<rect x="264.7" y="1350.4" width="9.1" height="51.6" fill="#487fbd" stroke="#222" stroke-width="0.9"/>
<circle cx="269.3" cy="1364.8" r="0.9" fill="#000"/>
<line x1="293.5" y1="1360.9" x2="293.5" y2="1367.9" stroke="#000" stroke-width="1.5"/>
<line x1="291.0" y1="1360.9" x2="296.0" y2="1360.9" stroke="#000" stroke-width="1.5"/>
<rect x="288.9" y="1367.9" width="9.1" height="34.1" fill="#e3f3f3" stroke="#222" stroke-width="0.9"/>
<circle cx="293.5" cy="1377.5" r="0.9" fill="#000"/>
<line x1="307.9" y1="1263.6" x2="307.9" y2="1303.7" stroke="#000" stroke-width="1.5"/>
<line x1="305.4" y1="1263.6" x2="310.4" y2="1263.6" stroke="#000" stroke-width="1.5"/>
<rect x="303.3" y="1303.7" width="9.1" height="98.3" fill="#f2e08e" stroke="#222" stroke-width="0.9"/>
<circle cx="307.9" cy="1331.2" r="0.9" fill="#000"/>
<line x1="322.0" y1="1368.6" x2="322.0" y2="1376.4" stroke="#000" stroke-width="1.5"/>
<line x1="319.5" y1="1368.6" x2="324.5" y2="1368.6" stroke="#000" stroke-width="1.5"/>
<rect x="317.5" y="1376.4" width="9.1" height="25.6" fill="#ff2d1e" stroke="#222" stroke-width="0.9"/>
<circle cx="322.0" cy="1383.5" r="0.9" fill="#000"/>
<line x1="336.4" y1="1352.1" x2="336.4" y2="1355.6" stroke="#000" stroke-width="1.5"/>
<line x1="333.9" y1="1352.1" x2="338.9" y2="1352.1" stroke="#000" stroke-width="1.5"/>
<rect x="331.9" y="1355.6" width="9.1" height="46.4" fill="#487fbd" stroke="#222" stroke-width="0.9"/>
<circle cx="336.4" cy="1368.6" r="0.9" fill="#000"/>
<line x1="82.3" y1="1225.6" x2="82.3" y2="1402.8" stroke="#000" stroke-width="1.7"/>
<line x1="76.8" y1="1402.0" x2="346.9" y2="1402.0" stroke="#000" stroke-width="1.7"/>
<line x1="76.8" y1="1226.4" x2="82.3" y2="1226.4" stroke="#000" stroke-width="1.7"/>
<text x="74.2" y="1231.4" font-size="14" font-weight="bold" text-anchor="end">5</text>
<line x1="76.8" y1="1261.5" x2="82.3" y2="1261.5" stroke="#000" stroke-width="1.7"/>
<text x="74.2" y="1266.5" font-size="14" font-weight="bold" text-anchor="end">4</text>
<line x1="76.8" y1="1296.6" x2="82.3" y2="1296.6" stroke="#000" stroke-width="1.7"/>
<text x="74.2" y="1301.7" font-size="14" font-weight="bold" text-anchor="end">3</text>
<line x1="76.8" y1="1331.8" x2="82.3" y2="1331.8" stroke="#000" stroke-width="1.7"/>
<text x="74.2" y="1336.8" font-size="14" font-weight="bold" text-anchor="end">2</text>
<line x1="76.8" y1="1366.9" x2="82.3" y2="1366.9" stroke="#000" stroke-width="1.7"/>
<text x="74.2" y="1371.9" font-size="14" font-weight="bold" text-anchor="end">1</text>
<line x1="76.8" y1="1402.0" x2="82.3" y2="1402.0" stroke="#000" stroke-width="1.7"/>
<text x="74.2" y="1407.0" font-size="14" font-weight="bold" text-anchor="end">0</text>
<line x1="113.6" y1="1402.0" x2="113.6" y2="1407.5" stroke="#000" stroke-width="1.7"/>
<line x1="180.8" y1="1402.0" x2="180.8" y2="1407.5" stroke="#000" stroke-width="1.7"/>
<line x1="247.9" y1="1402.0" x2="247.9" y2="1407.5" stroke="#000" stroke-width="1.7"/>
<line x1="314.9" y1="1402.0" x2="314.9" y2="1407.5" stroke="#000" stroke-width="1.7"/>
<text font-size="13.1" font-weight="bold" text-anchor="middle" transform="translate(39.4 1314.2) rotate(-90)">Odontogenesis Markers</text>
<text font-size="13.1" font-weight="bold" text-anchor="middle" transform="translate(54.3 1313.7) rotate(-90)">Relative Expression of mRNA</text>
<text x="113.6" y="1421.7" font-size="13.4" font-weight="bold" text-anchor="middle">DSPP</text>
<text x="180.8" y="1421.7" font-size="13.4" font-weight="bold" text-anchor="middle">DMP1</text>
<text x="247.9" y="1421.7" font-size="13.4" font-weight="bold" text-anchor="middle">RUNX2</text>
<text x="314.9" y="1421.7" font-size="13.4" font-weight="bold" text-anchor="middle">ALP</text>
<path d="M92.0 1358.3V1323.6H106.4V1330.2" stroke="#333" stroke-width="0.9" fill="none"/>
<text x="101.3" y="1322.0" font-size="10.5" text-anchor="middle" fill="#222" letter-spacing="1">****</text>
<path d="M120.8 1363.2V1350.5H135.0V1355.8" stroke="#333" stroke-width="0.9" fill="none"/>
<text x="128.7" y="1348.9" font-size="10.5" text-anchor="middle" fill="#222" letter-spacing="1">*</text>
<path d="M158.7 1359.5V1273.6H172.9V1281.4" stroke="#333" stroke-width="0.9" fill="none"/>
<text x="166.0" y="1271.2" font-size="10.5" text-anchor="middle" fill="#222" letter-spacing="1">*</text>
<path d="M187.5 1370.5V1334.6H201.7V1339.5" stroke="#333" stroke-width="0.9" fill="none"/>
<text x="194.8" y="1333.0" font-size="10.5" text-anchor="middle" fill="#222" letter-spacing="1">**</text>
<path d="M225.8 1360.7V1314.3H240.2V1321.7" stroke="#333" stroke-width="0.9" fill="none"/>
<text x="232.9" y="1312.0" font-size="10.5" text-anchor="middle" fill="#222" letter-spacing="1">*</text>
<path d="M254.6 1358.3V1329.7H268.8V1336.3" stroke="#333" stroke-width="0.9" fill="none"/>
<text x="262.5" y="1329.8" font-size="10.5" text-anchor="middle" fill="#222" letter-spacing="1">**</text>
<path d="M292.5 1358.3V1255.0H306.9V1259.9" stroke="#333" stroke-width="0.9" fill="none"/>
<text x="300.3" y="1254.2" font-size="10.5" text-anchor="middle" fill="#222" letter-spacing="1">*</text>
<path d="M321.5 1363.2V1341.2H335.9V1347.3" stroke="#333" stroke-width="0.9" fill="none"/>
<text x="329.1" y="1340.3" font-size="10.5" text-anchor="middle" fill="#222" letter-spacing="1">**</text>
<rect x="731.4" y="1154.8" width="18.3" height="6.8" fill="#e3f3f3" stroke="#222" stroke-width="0.9"/>
<text x="760.6" y="1162.9" font-size="13.3" font-weight="bold">LV-NC+mimics-NC</text>
<rect x="731.4" y="1178.7" width="18.3" height="6.8" fill="#f2e08e" stroke="#222" stroke-width="0.9"/>
<text x="760.6" y="1186.8" font-size="13.3" font-weight="bold">LV-circ1599+mimics-NC</text>
<rect x="731.4" y="1202.5" width="18.3" height="6.8" fill="#ff2d1e" stroke="#222" stroke-width="0.9"/>
<text x="760.6" y="1210.7" font-size="13.3" font-weight="bold">miR-889-3p-mimics+LV-NC</text>
<rect x="731.4" y="1226.1" width="18.3" height="6.8" fill="#487fbd" stroke="#222" stroke-width="0.9"/>
<text x="760.6" y="1234.3" font-size="13.3" font-weight="bold">LV-circ1599+miR-889-3p-mimics</text>
<text x="677.6" y="1198.7" font-size="13.1" font-weight="bold">14 days</text>
<line x1="562.8" y1="1388.7" x2="562.8" y2="1389.2" stroke="#000" stroke-width="1.5"/>
<line x1="560.3" y1="1388.7" x2="565.3" y2="1388.7" stroke="#000" stroke-width="1.5"/>
<rect x="558.2" y="1389.2" width="9.1" height="11.8" fill="#e3f3f3" stroke="#222" stroke-width="0.9"/>
<circle cx="562.8" cy="1392.5" r="0.9" fill="#000"/>
<line x1="577.8" y1="1341.1" x2="577.8" y2="1358.7" stroke="#000" stroke-width="1.5"/>
<line x1="575.3" y1="1341.1" x2="580.3" y2="1341.1" stroke="#000" stroke-width="1.5"/>
<rect x="573.2" y="1358.7" width="9.1" height="42.3" fill="#f2e08e" stroke="#222" stroke-width="0.9"/>
<circle cx="577.8" cy="1370.5" r="0.9" fill="#000"/>
<line x1="593.0" y1="1389.6" x2="593.0" y2="1394.5" stroke="#000" stroke-width="1.5"/>
<line x1="590.5" y1="1389.6" x2="595.5" y2="1389.6" stroke="#000" stroke-width="1.5"/>
<rect x="588.5" y="1394.5" width="9.1" height="6.5" fill="#ff2d1e" stroke="#222" stroke-width="0.9"/>
<circle cx="593.0" cy="1396.3" r="0.9" fill="#000"/>
<line x1="608.2" y1="1381.0" x2="608.2" y2="1384.5" stroke="#000" stroke-width="1.5"/>
<line x1="605.7" y1="1381.0" x2="610.7" y2="1381.0" stroke="#000" stroke-width="1.5"/>
<rect x="603.7" y="1384.5" width="9.1" height="16.5" fill="#487fbd" stroke="#222" stroke-width="0.9"/>
<circle cx="608.2" cy="1389.2" r="0.9" fill="#000"/>
<line x1="633.6" y1="1387.5" x2="633.6" y2="1389.2" stroke="#000" stroke-width="1.5"/>
<line x1="631.1" y1="1387.5" x2="636.1" y2="1387.5" stroke="#000" stroke-width="1.5"/>
<rect x="629.1" y="1389.2" width="9.1" height="11.8" fill="#e3f3f3" stroke="#222" stroke-width="0.9"/>
<circle cx="633.6" cy="1392.5" r="0.9" fill="#000"/>
<line x1="648.6" y1="1285.2" x2="648.6" y2="1301.1" stroke="#000" stroke-width="1.5"/>
<line x1="646.1" y1="1285.2" x2="651.1" y2="1285.2" stroke="#000" stroke-width="1.5"/>
<rect x="644.1" y="1301.1" width="9.1" height="99.9" fill="#f2e08e" stroke="#222" stroke-width="0.9"/>
<circle cx="648.6" cy="1329.1" r="0.9" fill="#000"/>
<line x1="663.8" y1="1393.4" x2="663.8" y2="1396.3" stroke="#000" stroke-width="1.5"/>
<line x1="661.3" y1="1393.4" x2="666.3" y2="1393.4" stroke="#000" stroke-width="1.5"/>
<rect x="659.3" y="1396.3" width="9.1" height="4.7" fill="#ff2d1e" stroke="#222" stroke-width="0.9"/>
<circle cx="663.8" cy="1397.6" r="0.9" fill="#000"/>
<line x1="678.8" y1="1339.9" x2="678.8" y2="1359.3" stroke="#000" stroke-width="1.5"/>
<line x1="676.3" y1="1339.9" x2="681.3" y2="1339.9" stroke="#000" stroke-width="1.5"/>
<rect x="674.3" y="1359.3" width="9.1" height="41.7" fill="#487fbd" stroke="#222" stroke-width="0.9"/>
<circle cx="678.8" cy="1371.0" r="0.9" fill="#000"/>
<line x1="704.2" y1="1386.1" x2="704.2" y2="1389.2" stroke="#000" stroke-width="1.5"/>
<line x1="701.7" y1="1386.1" x2="706.7" y2="1386.1" stroke="#000" stroke-width="1.5"/>
<rect x="699.7" y="1389.2" width="9.1" height="11.8" fill="#e3f3f3" stroke="#222" stroke-width="0.9"/>
<circle cx="704.2" cy="1392.5" r="0.9" fill="#000"/>
<line x1="719.2" y1="1354.6" x2="719.2" y2="1359.9" stroke="#000" stroke-width="1.5"/>
<line x1="716.7" y1="1354.6" x2="721.7" y2="1354.6" stroke="#000" stroke-width="1.5"/>
<rect x="714.7" y="1359.9" width="9.1" height="41.1" fill="#f2e08e" stroke="#222" stroke-width="0.9"/>
<circle cx="719.2" cy="1371.4" r="0.9" fill="#000"/>
<line x1="734.4" y1="1389.2" x2="734.4" y2="1392.2" stroke="#000" stroke-width="1.5"/>
<line x1="731.9" y1="1389.2" x2="736.9" y2="1389.2" stroke="#000" stroke-width="1.5"/>
<rect x="729.9" y="1392.2" width="9.1" height="8.8" fill="#ff2d1e" stroke="#222" stroke-width="0.9"/>
<circle cx="734.4" cy="1394.7" r="0.9" fill="#000"/>
<line x1="749.4" y1="1369.9" x2="749.4" y2="1376.9" stroke="#000" stroke-width="1.5"/>
<line x1="746.9" y1="1369.9" x2="751.9" y2="1369.9" stroke="#000" stroke-width="1.5"/>
<rect x="744.9" y="1376.9" width="9.1" height="24.1" fill="#487fbd" stroke="#222" stroke-width="0.9"/>
<circle cx="749.4" cy="1383.7" r="0.9" fill="#000"/>
<line x1="774.8" y1="1388.7" x2="774.8" y2="1389.2" stroke="#000" stroke-width="1.5"/>
<line x1="772.3" y1="1388.7" x2="777.3" y2="1388.7" stroke="#000" stroke-width="1.5"/>
<rect x="770.3" y="1389.2" width="9.1" height="11.8" fill="#e3f3f3" stroke="#222" stroke-width="0.9"/>
<circle cx="774.8" cy="1392.5" r="0.9" fill="#000"/>
<line x1="789.8" y1="1304.6" x2="789.8" y2="1319.9" stroke="#000" stroke-width="1.5"/>
<line x1="787.3" y1="1304.6" x2="792.3" y2="1304.6" stroke="#000" stroke-width="1.5"/>
<rect x="785.3" y="1319.9" width="9.1" height="81.1" fill="#f2e08e" stroke="#222" stroke-width="0.9"/>
<circle cx="789.8" cy="1342.6" r="0.9" fill="#000"/>
<line x1="805.0" y1="1389.2" x2="805.0" y2="1392.8" stroke="#000" stroke-width="1.5"/>
<line x1="802.5" y1="1389.2" x2="807.5" y2="1389.2" stroke="#000" stroke-width="1.5"/>
<rect x="800.5" y="1392.8" width="9.1" height="8.2" fill="#ff2d1e" stroke="#222" stroke-width="0.9"/>
<circle cx="805.0" cy="1395.1" r="0.9" fill="#000"/>
<line x1="820.3" y1="1375.1" x2="820.3" y2="1380.4" stroke="#000" stroke-width="1.5"/>
<line x1="817.8" y1="1375.1" x2="822.8" y2="1375.1" stroke="#000" stroke-width="1.5"/>
<rect x="815.7" y="1380.4" width="9.1" height="20.6" fill="#487fbd" stroke="#222" stroke-width="0.9"/>
<circle cx="820.3" cy="1386.2" r="0.9" fill="#000"/>
<line x1="552.9" y1="1223.9" x2="552.9" y2="1401.8" stroke="#000" stroke-width="1.7"/>
<line x1="547.4" y1="1401.0" x2="831.2" y2="1401.0" stroke="#000" stroke-width="1.7"/>
<line x1="547.4" y1="1224.7" x2="552.9" y2="1224.7" stroke="#000" stroke-width="1.7"/>
<text x="545.0" y="1229.7" font-size="14" font-weight="bold" text-anchor="end">15</text>
<line x1="547.4" y1="1283.5" x2="552.9" y2="1283.5" stroke="#000" stroke-width="1.7"/>
<text x="545.0" y="1288.5" font-size="14" font-weight="bold" text-anchor="end">10</text>
<line x1="547.4" y1="1342.2" x2="552.9" y2="1342.2" stroke="#000" stroke-width="1.7"/>
<text x="545.0" y="1347.2" font-size="14" font-weight="bold" text-anchor="end">5</text>
<line x1="547.4" y1="1401.0" x2="552.9" y2="1401.0" stroke="#000" stroke-width="1.7"/>
<text x="545.0" y="1406.0" font-size="14" font-weight="bold" text-anchor="end">0</text>
<line x1="585.4" y1="1401.0" x2="585.4" y2="1406.5" stroke="#000" stroke-width="1.7"/>
<line x1="656.2" y1="1401.0" x2="656.2" y2="1406.5" stroke="#000" stroke-width="1.7"/>
<line x1="726.8" y1="1401.0" x2="726.8" y2="1406.5" stroke="#000" stroke-width="1.7"/>
<line x1="797.4" y1="1401.0" x2="797.4" y2="1406.5" stroke="#000" stroke-width="1.7"/>
<text font-size="13.25" font-weight="bold" text-anchor="middle" transform="translate(503.0 1312.8) rotate(-90)">Odontogenesis Markers</text>
<text font-size="13.25" font-weight="bold" text-anchor="middle" transform="translate(518.2 1312.3) rotate(-90)">Relative Expression of mRNA</text>
<text x="585.4" y="1420.5" font-size="13.4" font-weight="bold" text-anchor="middle">DSPP</text>
<text x="656.2" y="1420.5" font-size="13.4" font-weight="bold" text-anchor="middle">DMP1</text>
<text x="726.8" y="1420.5" font-size="13.4" font-weight="bold" text-anchor="middle">RUNX2</text>
<text x="797.4" y="1420.5" font-size="13.4" font-weight="bold" text-anchor="middle">ALP</text>
<path d="M561.8 1380.1V1331.9H577.8V1336.2" stroke="#333" stroke-width="0.9" fill="none"/>
<text x="570.1" y="1330.8" font-size="10.5" text-anchor="middle" fill="#222" letter-spacing="1">*</text>
<path d="M593.3 1386.5V1364.9H608.5V1373.8" stroke="#333" stroke-width="0.9" fill="none"/>
<text x="601.1" y="1362.0" font-size="10.5" text-anchor="middle" fill="#222" letter-spacing="1">*</text>
<path d="M633.6 1380.1V1275.5H648.6V1279.8" stroke="#333" stroke-width="0.9" fill="none"/>
<text x="642.3" y="1274.2" font-size="10.5" text-anchor="middle" fill="#222" letter-spacing="1">***</text>
<path d="M663.6 1389.0V1327.3H678.8V1333.1" stroke="#333" stroke-width="0.9" fill="none"/>
<text x="671.5" y="1326.2" font-size="10.5" text-anchor="middle" fill="#222" letter-spacing="1">*</text>
<path d="M703.5 1380.1V1344.6H718.7V1348.4" stroke="#333" stroke-width="0.9" fill="none"/>
<text x="711.6" y="1343.0" font-size="10.5" text-anchor="middle" fill="#222" letter-spacing="1">***</text>
<path d="M733.9 1386.5V1356.8H749.2V1362.4" stroke="#333" stroke-width="0.9" fill="none"/>
<text x="742.1" y="1354.9" font-size="10.5" text-anchor="middle" fill="#222" letter-spacing="1">*</text>
<path d="M773.8 1381.4V1295.1H788.8V1298.9" stroke="#333" stroke-width="0.9" fill="none"/>
<text x="781.4" y="1294.5" font-size="10.5" text-anchor="middle" fill="#222" letter-spacing="1">**</text>
<path d="M804.0 1386.5V1363.1H819.8V1371.2" stroke="#333" stroke-width="0.9" fill="none"/>
<text x="812.4" y="1362.0" font-size="10.5" text-anchor="middle" fill="#222" letter-spacing="1">*</text>
<text x="1044.5" y="890.5" font-size="28" font-weight="bold">h</text>
<defs><filter id="hb6" x="-50%" y="-50%" width="200%" height="200%"><feGaussianBlur stdDeviation="6"/></filter><filter id="hb3" x="-50%" y="-50%" width="200%" height="200%"><feGaussianBlur stdDeviation="2.5"/></filter><filter id="hb1" x="-50%" y="-50%" width="200%" height="200%"><feGaussianBlur stdDeviation="0.9"/></filter></defs>
<radialGradient id="wg1" cx="45%" cy="35%" r="75%"><stop offset="0" stop-color="#ae93b2"/><stop offset="0.6" stop-color="#b89bb8"/><stop offset="1" stop-color="#c9a6c0"/></radialGradient>
<clipPath id="wc1"><circle cx="1200.9" cy="947.4" r="51.0"/></clipPath>
<g clip-path="url(#wc1)">
<circle cx="1200.9" cy="947.4" r="51.0" fill="url(#wg1)"/>
<ellipse cx="1205" cy="990" rx="45" ry="16" fill="#d6a2c4" fill-opacity="0.8" filter="url(#hb6)"/>
<ellipse cx="1235" cy="925" rx="16" ry="30" fill="#d8c4cc" fill-opacity="0.6" filter="url(#hb6)"/>
<path d="M1219.9 991.4Q1230.9 981.4 1236.9 964.4" stroke="#ffe8f4" stroke-width="2.6" fill="none" filter="url(#hb1)" stroke-opacity="0.95"/><path d="M1220.9 992.4Q1226.9 987.4 1230.9 980.4" stroke="#ff8a70" stroke-width="1.6" fill="none" filter="url(#hb1)" stroke-opacity="0.9"/>
<filter id="nz1" x="0" y="0" width="100%" height="100%" color-interpolation-filters="sRGB"><feTurbulence type="fractalNoise" baseFrequency="0.28" numOctaves="3" seed="11"/><feColorMatrix type="matrix" values="0 0 0 0 0.384 0 0 0 0 0.278 0 0 0 0 0.541 4.0 0 0 0 -2.05"/><feGaussianBlur stdDeviation="0.7"/></filter>
<rect x="1149.9" y="896.4" width="102.0" height="102.0" filter="url(#nz1)" opacity="0.55"/>
<filter id="nz2" x="0" y="0" width="100%" height="100%" color-interpolation-filters="sRGB"><feTurbulence type="fractalNoise" baseFrequency="0.07" numOctaves="2" seed="12"/><feColorMatrix type="matrix" values="0 0 0 0 0.416 0 0 0 0 0.306 0 0 0 0 0.549 2.2 0 0 0 -1.0"/><feGaussianBlur stdDeviation="0.7"/></filter>
<rect x="1149.9" y="896.4" width="102.0" height="102.0" filter="url(#nz2)" opacity="0.55"/>
<filter id="nz3" x="0" y="0" width="100%" height="100%" color-interpolation-filters="sRGB"><feTurbulence type="fractalNoise" baseFrequency="0.4" numOctaves="2" seed="5"/><feColorMatrix type="matrix" values="0 0 0 0 0.941 0 0 0 0 0.863 0 0 0 0 0.918 2.5 0 0 0 -1.45"/><feGaussianBlur stdDeviation="0.7"/></filter>
<rect x="1149.9" y="896.4" width="102.0" height="102.0" filter="url(#nz3)" opacity="0.55"/>
</g>
<circle cx="1200.9" cy="947.4" r="50.7" fill="none" stroke="#4a3555" stroke-opacity="0.75" stroke-width="1.0"/>
<radialGradient id="wg2" cx="50%" cy="40%" r="75%"><stop offset="0" stop-color="#9b79a8"/><stop offset="0.6" stop-color="#a582ad"/><stop offset="1" stop-color="#b892b8"/></radialGradient>
<clipPath id="wc2"><circle cx="1350.7" cy="947.1" r="50.8"/></clipPath>
<g clip-path="url(#wc2)">
<circle cx="1350.7" cy="947.1" r="50.8" fill="url(#wg2)"/>
<ellipse cx="1352" cy="990" rx="42" ry="14" fill="#c595bd" fill-opacity="0.8" filter="url(#hb6)"/>
<path d="M1381 975Q1387 969 1390 960" stroke="#c8c4f8" stroke-width="2" fill="none" filter="url(#hb1)"/>
<filter id="nz4" x="0" y="0" width="100%" height="100%" color-interpolation-filters="sRGB"><feTurbulence type="fractalNoise" baseFrequency="0.28" numOctaves="3" seed="23"/><feColorMatrix type="matrix" values="0 0 0 0 0.325 0 0 0 0 0.196 0 0 0 0 0.510 4.4 0 0 0 -2.1"/><feGaussianBlur stdDeviation="0.7"/></filter>
<rect x="1299.9" y="896.3" width="101.6" height="101.6" filter="url(#nz4)" opacity="0.55"/>
<filter id="nz5" x="0" y="0" width="100%" height="100%" color-interpolation-filters="sRGB"><feTurbulence type="fractalNoise" baseFrequency="0.07" numOctaves="2" seed="24"/><feColorMatrix type="matrix" values="0 0 0 0 0.349 0 0 0 0 0.220 0 0 0 0 0.522 2.4 0 0 0 -1.0"/><feGaussianBlur stdDeviation="0.7"/></filter>
<rect x="1299.9" y="896.3" width="101.6" height="101.6" filter="url(#nz5)" opacity="0.55"/>
<filter id="nz6" x="0" y="0" width="100%" height="100%" color-interpolation-filters="sRGB"><feTurbulence type="fractalNoise" baseFrequency="0.4" numOctaves="2" seed="8"/><feColorMatrix type="matrix" values="0 0 0 0 0.925 0 0 0 0 0.831 0 0 0 0 0.902 2.4 0 0 0 -1.45"/><feGaussianBlur stdDeviation="0.7"/></filter>
<rect x="1299.9" y="896.3" width="101.6" height="101.6" filter="url(#nz6)" opacity="0.55"/>
</g>
<circle cx="1350.7" cy="947.1" r="50.5" fill="none" stroke="#3f2c4c" stroke-opacity="0.75" stroke-width="1.0"/>
<radialGradient id="wg3" cx="50%" cy="30%" r="80%"><stop offset="0" stop-color="#b5a4b4"/><stop offset="0.55" stop-color="#c0a8bb"/><stop offset="1" stop-color="#d3acc1"/></radialGradient>
<clipPath id="wc3"><circle cx="1514.3" cy="946.1" r="50.7"/></clipPath>
<g clip-path="url(#wc3)">
<circle cx="1514.3" cy="946.1" r="50.7" fill="url(#wg3)"/>
<ellipse cx="1512" cy="985" rx="44" ry="18" fill="#dcaac4" fill-opacity="0.85" filter="url(#hb6)"/>
<ellipse cx="1497" cy="965" rx="5" ry="4" fill="#6a4c98" fill-opacity="0.7" filter="url(#hb3)"/>
<ellipse cx="1530" cy="915" rx="34" ry="18" fill="#cfc2c4" fill-opacity="0.6" filter="url(#hb6)"/>
<path d="M1531.0 988.0Q1542.0 978.0 1548.0 961.0" stroke="#ffe8f4" stroke-width="2.6" fill="none" filter="url(#hb1)" stroke-opacity="0.95"/><path d="M1532.0 989.0Q1538.0 984.0 1542.0 977.0" stroke="#ff8a70" stroke-width="1.6" fill="none" filter="url(#hb1)" stroke-opacity="0.9"/>
<filter id="nz7" x="0" y="0" width="100%" height="100%" color-interpolation-filters="sRGB"><feTurbulence type="fractalNoise" baseFrequency="0.3" numOctaves="3" seed="31"/><feColorMatrix type="matrix" values="0 0 0 0 0.416 0 0 0 0 0.322 0 0 0 0 0.561 3.2 0 0 0 -1.8"/><feGaussianBlur stdDeviation="0.7"/></filter>
<rect x="1463.6" y="895.4" width="101.4" height="101.4" filter="url(#nz7)" opacity="0.55"/>
<filter id="nz8" x="0" y="0" width="100%" height="100%" color-interpolation-filters="sRGB"><feTurbulence type="fractalNoise" baseFrequency="0.07" numOctaves="2" seed="32"/><feColorMatrix type="matrix" values="0 0 0 0 0.439 0 0 0 0 0.345 0 0 0 0 0.580 1.6 0 0 0 -0.8"/><feGaussianBlur stdDeviation="0.7"/></filter>
<rect x="1463.6" y="895.4" width="101.4" height="101.4" filter="url(#nz8)" opacity="0.55"/>
<filter id="nz9" x="0" y="0" width="100%" height="100%" color-interpolation-filters="sRGB"><feTurbulence type="fractalNoise" baseFrequency="0.4" numOctaves="2" seed="9"/><feColorMatrix type="matrix" values="0 0 0 0 0.949 0 0 0 0 0.886 0 0 0 0 0.925 2.5 0 0 0 -1.4"/><feGaussianBlur stdDeviation="0.7"/></filter>
<rect x="1463.6" y="895.4" width="101.4" height="101.4" filter="url(#nz9)" opacity="0.55"/>
</g>
<circle cx="1514.3" cy="946.1" r="50.4" fill="none" stroke="#5a4a5c" stroke-opacity="0.75" stroke-width="1.0"/>
<radialGradient id="wg4" cx="50%" cy="45%" r="75%"><stop offset="0" stop-color="#a382aa"/><stop offset="0.6" stop-color="#a986ae"/><stop offset="1" stop-color="#ba92b6"/></radialGradient>
<clipPath id="wc4"><circle cx="1664.4" cy="946.5" r="50.3"/></clipPath>
<g clip-path="url(#wc4)">
<circle cx="1664.4" cy="946.5" r="50.3" fill="url(#wg4)"/>
<ellipse cx="1662" cy="988" rx="40" ry="12" fill="#c898bc" fill-opacity="0.7" filter="url(#hb6)"/>
<filter id="nz10" x="0" y="0" width="100%" height="100%" color-interpolation-filters="sRGB"><feTurbulence type="fractalNoise" baseFrequency="0.28" numOctaves="3" seed="47"/><feColorMatrix type="matrix" values="0 0 0 0 0.325 0 0 0 0 0.196 0 0 0 0 0.510 4.4 0 0 0 -2.15"/><feGaussianBlur stdDeviation="0.7"/></filter>
<rect x="1614.1" y="896.2" width="100.6" height="100.6" filter="url(#nz10)" opacity="0.55"/>
<filter id="nz11" x="0" y="0" width="100%" height="100%" color-interpolation-filters="sRGB"><feTurbulence type="fractalNoise" baseFrequency="0.06" numOctaves="2" seed="48"/><feColorMatrix type="matrix" values="0 0 0 0 0.349 0 0 0 0 0.220 0 0 0 0 0.522 2.6 0 0 0 -1.1"/><feGaussianBlur stdDeviation="0.7"/></filter>
<rect x="1614.1" y="896.2" width="100.6" height="100.6" filter="url(#nz11)" opacity="0.55"/>
<filter id="nz12" x="0" y="0" width="100%" height="100%" color-interpolation-filters="sRGB"><feTurbulence type="fractalNoise" baseFrequency="0.4" numOctaves="2" seed="12"/><feColorMatrix type="matrix" values="0 0 0 0 0.937 0 0 0 0 0.847 0 0 0 0 0.910 2.4 0 0 0 -1.4"/><feGaussianBlur stdDeviation="0.7"/></filter>
<rect x="1614.1" y="896.2" width="100.6" height="100.6" filter="url(#nz12)" opacity="0.55"/>
</g>
<circle cx="1664.4" cy="946.5" r="50.0" fill="none" stroke="#46304f" stroke-opacity="0.75" stroke-width="1.0"/>
<clipPath id="mc1"><rect x="1123.7" y="1005.8" width="149.7" height="112.5"/></clipPath>
<g clip-path="url(#mc1)">
<rect x="1123.7" y="1005.8" width="149.7" height="112.5" fill="#e6dde5"/>
<ellipse cx="1163.7" cy="1030.8" rx="40" ry="14" fill="#6a6488" fill-opacity="0.22" filter="url(#hb6)"/>
<ellipse cx="1208.7" cy="1083.8" rx="22" ry="24" fill="#6a6488" fill-opacity="0.22" filter="url(#hb6)"/>
<filter id="nz13" x="0" y="0" width="100%" height="100%" color-interpolation-filters="sRGB"><feTurbulence type="fractalNoise" baseFrequency="0.07 0.45" numOctaves="3" seed="3"/><feColorMatrix type="matrix" values="0 0 0 0 0.337 0 0 0 0 0.314 0 0 0 0 0.471 4.6 0 0 0 -2.5"/><feGaussianBlur stdDeviation="0.55"/></filter>
<rect x="1086.3" y="949.8" width="224.5" height="224.5" filter="url(#nz13)" opacity="0.6" transform="rotate(-55 1198.5 1062.0)"/>
<filter id="nz14" x="0" y="0" width="100%" height="100%" color-interpolation-filters="sRGB"><feTurbulence type="fractalNoise" baseFrequency="0.07 0.45" numOctaves="3" seed="17"/><feColorMatrix type="matrix" values="0 0 0 0 0.337 0 0 0 0 0.314 0 0 0 0 0.471 4.6 0 0 0 -2.55"/><feGaussianBlur stdDeviation="0.55"/></filter>
<rect x="1086.3" y="949.8" width="224.5" height="224.5" filter="url(#nz14)" opacity="0.6" transform="rotate(-20 1198.5 1062.0)"/>
<filter id="nz15" x="0" y="0" width="100%" height="100%" color-interpolation-filters="sRGB"><feTurbulence type="fractalNoise" baseFrequency="0.22" numOctaves="3" seed="19"/><feColorMatrix type="matrix" values="0 0 0 0 0.353 0 0 0 0 0.329 0 0 0 0 0.471 3.0 0 0 0 -1.7"/><feGaussianBlur stdDeviation="0.55"/></filter>
<rect x="1086.3" y="949.8" width="224.5" height="224.5" filter="url(#nz15)" opacity="0.6" transform="rotate(0 1198.5 1062.0)"/>
<filter id="nz16" x="0" y="0" width="100%" height="100%" color-interpolation-filters="sRGB"><feTurbulence type="fractalNoise" baseFrequency="0.05 0.5" numOctaves="2" seed="8"/><feColorMatrix type="matrix" values="0 0 0 0 0.973 0 0 0 0 0.949 0 0 0 0 0.965 3.0 0 0 0 -1.65"/><feGaussianBlur stdDeviation="0.55"/></filter>
<rect x="1086.3" y="949.8" width="224.5" height="224.5" filter="url(#nz16)" opacity="0.6" transform="rotate(-55 1198.5 1062.0)"/>
</g>
<line x1="1245.0" y1="1111.2" x2="1265.2" y2="1111.2" stroke="#e6e11e" stroke-width="0.9"/>
<text x="1255.1" y="1108.7" font-size="4.6" font-weight="bold" text-anchor="middle" fill="#e6e11e">200μm</text>
<clipPath id="mc2"><rect x="1280.4" y="1005.8" width="149.7" height="112.5"/></clipPath>
<g clip-path="url(#mc2)">
<rect x="1280.4" y="1005.8" width="149.7" height="112.5" fill="#e2e2ea"/>
<ellipse cx="1375.4" cy="1065.8" rx="60" ry="28" fill="#545a7a" fill-opacity="0.28" filter="url(#hb6)" transform="rotate(-20 1375.4 1065.8)"/>
<ellipse cx="1294.4" cy="1075.8" rx="16" ry="40" fill="#545a7a" fill-opacity="0.25" filter="url(#hb6)"/>
<ellipse cx="1355.4" cy="1013.8" rx="70" ry="8" fill="#545a7a" fill-opacity="0.2" filter="url(#hb6)"/>
<ellipse cx="1408.4" cy="1095.8" rx="18" ry="13" fill="#ffffff" fill-opacity="0.55" filter="url(#hb6)"/>
<ellipse cx="1325.4" cy="1030.8" rx="28" ry="12" fill="#ffffff" fill-opacity="0.4" filter="url(#hb6)"/>
<filter id="nz17" x="0" y="0" width="100%" height="100%" color-interpolation-filters="sRGB"><feTurbulence type="fractalNoise" baseFrequency="0.07 0.45" numOctaves="3" seed="5"/><feColorMatrix type="matrix" values="0 0 0 0 0.235 0 0 0 0 0.259 0 0 0 0 0.392 5.0 0 0 0 -2.47"/><feGaussianBlur stdDeviation="0.55"/></filter>
<rect x="1243.0" y="949.8" width="224.5" height="224.5" filter="url(#nz17)" opacity="0.6" transform="rotate(-35 1355.2 1062.0)"/>
<filter id="nz18" x="0" y="0" width="100%" height="100%" color-interpolation-filters="sRGB"><feTurbulence type="fractalNoise" baseFrequency="0.07 0.45" numOctaves="3" seed="29"/><feColorMatrix type="matrix" values="0 0 0 0 0.235 0 0 0 0 0.259 0 0 0 0 0.392 5.0 0 0 0 -2.52"/><feGaussianBlur stdDeviation="0.55"/></filter>
<rect x="1243.0" y="949.8" width="224.5" height="224.5" filter="url(#nz18)" opacity="0.6" transform="rotate(-5 1355.2 1062.0)"/>
<filter id="nz19" x="0" y="0" width="100%" height="100%" color-interpolation-filters="sRGB"><feTurbulence type="fractalNoise" baseFrequency="0.22" numOctaves="3" seed="31"/><feColorMatrix type="matrix" values="0 0 0 0 0.290 0 0 0 0 0.314 0 0 0 0 0.439 3.2 0 0 0 -1.6"/><feGaussianBlur stdDeviation="0.55"/></filter>
<rect x="1243.0" y="949.8" width="224.5" height="224.5" filter="url(#nz19)" opacity="0.6" transform="rotate(0 1355.2 1062.0)"/>
<filter id="nz20" x="0" y="0" width="100%" height="100%" color-interpolation-filters="sRGB"><feTurbulence type="fractalNoise" baseFrequency="0.05 0.5" numOctaves="2" seed="2"/><feColorMatrix type="matrix" values="0 0 0 0 0.980 0 0 0 0 0.980 0 0 0 0 0.988 3.2 0 0 0 -1.7"/><feGaussianBlur stdDeviation="0.55"/></filter>
<rect x="1243.0" y="949.8" width="224.5" height="224.5" filter="url(#nz20)" opacity="0.6" transform="rotate(-35 1355.2 1062.0)"/>
</g>
<line x1="1401.7" y1="1111.2" x2="1421.9" y2="1111.2" stroke="#e6e11e" stroke-width="0.9"/>
<text x="1411.8" y="1108.7" font-size="4.6" font-weight="bold" text-anchor="middle" fill="#e6e11e">200μm</text>
<clipPath id="mc3"><rect x="1436.8" y="1005.8" width="149.7" height="112.5"/></clipPath>
<g clip-path="url(#mc3)">
<rect x="1436.8" y="1005.8" width="149.7" height="112.5" fill="#d4d2d4"/>
<ellipse cx="1536.8" cy="1085.8" rx="40" ry="24" fill="#5c5a7c" fill-opacity="0.32" filter="url(#hb6)"/>
<ellipse cx="1496.8" cy="1055.8" rx="18" ry="10" fill="#5c5a7c" fill-opacity="0.2" filter="url(#hb6)" transform="rotate(35 1496.8 1055.8)"/>
<filter id="nz21" x="0" y="0" width="100%" height="100%" color-interpolation-filters="sRGB"><feTurbulence type="fractalNoise" baseFrequency="0.06 0.5" numOctaves="3" seed="7"/><feColorMatrix type="matrix" values="0 0 0 0 0.353 0 0 0 0 0.345 0 0 0 0 0.408 3.6 0 0 0 -2.0"/><feGaussianBlur stdDeviation="0.55"/></filter>
<rect x="1399.4" y="949.8" width="224.5" height="224.5" filter="url(#nz21)" opacity="0.6" transform="rotate(-50 1511.6 1062.0)"/>
<filter id="nz22" x="0" y="0" width="100%" height="100%" color-interpolation-filters="sRGB"><feTurbulence type="fractalNoise" baseFrequency="0.06 0.5" numOctaves="3" seed="9"/><feColorMatrix type="matrix" values="0 0 0 0 0.353 0 0 0 0 0.345 0 0 0 0 0.408 3.6 0 0 0 -2.0"/><feGaussianBlur stdDeviation="0.55"/></filter>
<rect x="1399.4" y="949.8" width="224.5" height="224.5" filter="url(#nz22)" opacity="0.6" transform="rotate(-10 1511.6 1062.0)"/>
<filter id="nz23" x="0" y="0" width="100%" height="100%" color-interpolation-filters="sRGB"><feTurbulence type="fractalNoise" baseFrequency="0.3" numOctaves="3" seed="41"/><feColorMatrix type="matrix" values="0 0 0 0 0.400 0 0 0 0 0.392 0 0 0 0 0.431 3.0 0 0 0 -1.65"/><feGaussianBlur stdDeviation="0.55"/></filter>
<rect x="1399.4" y="949.8" width="224.5" height="224.5" filter="url(#nz23)" opacity="0.6" transform="rotate(0 1511.6 1062.0)"/>
<filter id="nz24" x="0" y="0" width="100%" height="100%" color-interpolation-filters="sRGB"><feTurbulence type="fractalNoise" baseFrequency="0.08 0.5" numOctaves="2" seed="6"/><feColorMatrix type="matrix" values="0 0 0 0 0.957 0 0 0 0 0.949 0 0 0 0 0.949 3.0 0 0 0 -1.6"/><feGaussianBlur stdDeviation="0.55"/></filter>
<rect x="1399.4" y="949.8" width="224.5" height="224.5" filter="url(#nz24)" opacity="0.6" transform="rotate(-50 1511.6 1062.0)"/>
</g>
<line x1="1558.1" y1="1111.2" x2="1578.3" y2="1111.2" stroke="#e6e11e" stroke-width="0.9"/>
<text x="1568.2" y="1108.7" font-size="4.6" font-weight="bold" text-anchor="middle" fill="#e6e11e">200μm</text>
<clipPath id="mc4"><rect x="1593.1" y="1005.8" width="149.7" height="112.5"/></clipPath>
<g clip-path="url(#mc4)">
<rect x="1593.1" y="1005.8" width="149.7" height="112.5" fill="#e3dbe4"/>
<ellipse cx="1640.1" cy="1047.8" rx="14" ry="20" fill="#4c4a6c" fill-opacity="0.42" filter="url(#hb6)"/>
<ellipse cx="1725.1" cy="1033.8" rx="18" ry="14" fill="#4c4a6c" fill-opacity="0.42" filter="url(#hb6)"/>
<ellipse cx="1608.1" cy="1075.8" rx="14" ry="22" fill="#4c4a6c" fill-opacity="0.3" filter="url(#hb6)"/>
<filter id="nz25" x="0" y="0" width="100%" height="100%" color-interpolation-filters="sRGB"><feTurbulence type="fractalNoise" baseFrequency="0.07 0.45" numOctaves="3" seed="9"/><feColorMatrix type="matrix" values="0 0 0 0 0.294 0 0 0 0 0.282 0 0 0 0 0.439 4.8 0 0 0 -2.62"/><feGaussianBlur stdDeviation="0.55"/></filter>
<rect x="1555.7" y="949.8" width="224.5" height="224.5" filter="url(#nz25)" opacity="0.6" transform="rotate(-60 1667.9 1062.0)"/>
<filter id="nz26" x="0" y="0" width="100%" height="100%" color-interpolation-filters="sRGB"><feTurbulence type="fractalNoise" baseFrequency="0.07 0.45" numOctaves="3" seed="53"/><feColorMatrix type="matrix" values="0 0 0 0 0.294 0 0 0 0 0.282 0 0 0 0 0.439 4.8 0 0 0 -2.66"/><feGaussianBlur stdDeviation="0.55"/></filter>
<rect x="1555.7" y="949.8" width="224.5" height="224.5" filter="url(#nz26)" opacity="0.6" transform="rotate(-25 1667.9 1062.0)"/>
<filter id="nz27" x="0" y="0" width="100%" height="100%" color-interpolation-filters="sRGB"><feTurbulence type="fractalNoise" baseFrequency="0.22" numOctaves="3" seed="55"/><feColorMatrix type="matrix" values="0 0 0 0 0.333 0 0 0 0 0.322 0 0 0 0 0.478 3.0 0 0 0 -1.65"/><feGaussianBlur stdDeviation="0.55"/></filter>
<rect x="1555.7" y="949.8" width="224.5" height="224.5" filter="url(#nz27)" opacity="0.6" transform="rotate(0 1667.9 1062.0)"/>
<filter id="nz28" x="0" y="0" width="100%" height="100%" color-interpolation-filters="sRGB"><feTurbulence type="fractalNoise" baseFrequency="0.05 0.5" numOctaves="2" seed="4"/><feColorMatrix type="matrix" values="0 0 0 0 0.980 0 0 0 0 0.957 0 0 0 0 0.973 3.0 0 0 0 -1.65"/><feGaussianBlur stdDeviation="0.55"/></filter>
<rect x="1555.7" y="949.8" width="224.5" height="224.5" filter="url(#nz28)" opacity="0.6" transform="rotate(-60 1667.9 1062.0)"/>
</g>
<line x1="1714.4" y1="1111.2" x2="1734.6" y2="1111.2" stroke="#e6e11e" stroke-width="0.9"/>
<text x="1724.5" y="1108.7" font-size="4.6" font-weight="bold" text-anchor="middle" fill="#e6e11e">200μm</text>
<radialGradient id="wg5" cx="50%" cy="35%" r="80%"><stop offset="0" stop-color="#aa4565"/><stop offset="0.6" stop-color="#b44a69"/><stop offset="1" stop-color="#cb5f78"/></radialGradient>
<clipPath id="wc5"><circle cx="1203.2" cy="1175.0" r="48.8"/></clipPath>
<g clip-path="url(#wc5)">
<circle cx="1203.2" cy="1175.0" r="48.8" fill="url(#wg5)"/>
<ellipse cx="1203" cy="1216" rx="40" ry="13" fill="#dc6c84" fill-opacity="0.8" filter="url(#hb6)"/>
<filter id="nz29" x="0" y="0" width="100%" height="100%" color-interpolation-filters="sRGB"><feTurbulence type="fractalNoise" baseFrequency="0.3" numOctaves="3" seed="13"/><feColorMatrix type="matrix" values="0 0 0 0 0.478 0 0 0 0 0.122 0 0 0 0 0.290 3.4 0 0 0 -1.75"/><feGaussianBlur stdDeviation="0.7"/></filter>
<rect x="1154.4" y="1126.2" width="97.6" height="97.6" filter="url(#nz29)" opacity="0.55"/>
<filter id="nz30" x="0" y="0" width="100%" height="100%" color-interpolation-filters="sRGB"><feTurbulence type="fractalNoise" baseFrequency="0.08" numOctaves="2" seed="14"/><feColorMatrix type="matrix" values="0 0 0 0 0.478 0 0 0 0 0.122 0 0 0 0 0.290 2.2 0 0 0 -1.05"/><feGaussianBlur stdDeviation="0.7"/></filter>
<rect x="1154.4" y="1126.2" width="97.6" height="97.6" filter="url(#nz30)" opacity="0.55"/>
<filter id="nz31" x="0" y="0" width="100%" height="100%" color-interpolation-filters="sRGB"><feTurbulence type="fractalNoise" baseFrequency="0.4" numOctaves="2" seed="3"/><feColorMatrix type="matrix" values="0 0 0 0 0.918 0 0 0 0 0.627 0 0 0 0 0.706 2.2 0 0 0 -1.3"/><feGaussianBlur stdDeviation="0.7"/></filter>
<rect x="1154.4" y="1126.2" width="97.6" height="97.6" filter="url(#nz31)" opacity="0.55"/>
</g>
<circle cx="1203.2" cy="1175.0" r="48.5" fill="none" stroke="#6a2038" stroke-opacity="0.75" stroke-width="1.0"/>
<radialGradient id="wg6" cx="50%" cy="40%" r="75%"><stop offset="0" stop-color="#a0354f"/><stop offset="0.7" stop-color="#a83a54"/><stop offset="1" stop-color="#8a2a40"/></radialGradient>
<clipPath id="wc6"><circle cx="1352.3" cy="1172.8" r="50.2"/></clipPath>
<g clip-path="url(#wc6)">
<circle cx="1352.3" cy="1172.8" r="50.2" fill="url(#wg6)"/>
<ellipse cx="1352" cy="1214" rx="40" ry="11" fill="#cc5068" fill-opacity="0.8" filter="url(#hb6)"/>
<ellipse cx="1345" cy="1219" rx="3.5" ry="1.6" fill="#ffd6dc" filter="url(#hb1)"/>
<filter id="nz32" x="0" y="0" width="100%" height="100%" color-interpolation-filters="sRGB"><feTurbulence type="fractalNoise" baseFrequency="0.3" numOctaves="3" seed="19"/><feColorMatrix type="matrix" values="0 0 0 0 0.369 0 0 0 0 0.078 0 0 0 0 0.188 3.2 0 0 0 -1.65"/><feGaussianBlur stdDeviation="0.7"/></filter>
<rect x="1302.1" y="1122.6" width="100.4" height="100.4" filter="url(#nz32)" opacity="0.55"/>
<filter id="nz33" x="0" y="0" width="100%" height="100%" color-interpolation-filters="sRGB"><feTurbulence type="fractalNoise" baseFrequency="0.08" numOctaves="2" seed="20"/><feColorMatrix type="matrix" values="0 0 0 0 0.369 0 0 0 0 0.078 0 0 0 0 0.188 2.0 0 0 0 -0.95"/><feGaussianBlur stdDeviation="0.7"/></filter>
<rect x="1302.1" y="1122.6" width="100.4" height="100.4" filter="url(#nz33)" opacity="0.55"/>
<filter id="nz34" x="0" y="0" width="100%" height="100%" color-interpolation-filters="sRGB"><feTurbulence type="fractalNoise" baseFrequency="0.4" numOctaves="2" seed="7"/><feColorMatrix type="matrix" values="0 0 0 0 0.847 0 0 0 0 0.439 0 0 0 0 0.533 2.0 0 0 0 -1.25"/><feGaussianBlur stdDeviation="0.7"/></filter>
<rect x="1302.1" y="1122.6" width="100.4" height="100.4" filter="url(#nz34)" opacity="0.55"/>
</g>
<circle cx="1352.3" cy="1172.8" r="49.9" fill="none" stroke="#2a0a14" stroke-opacity="0.75" stroke-width="1.8"/>
<radialGradient id="wg7" cx="50%" cy="35%" r="80%"><stop offset="0" stop-color="#c87490"/><stop offset="0.6" stop-color="#d27e96"/><stop offset="1" stop-color="#e490a4"/></radialGradient>
<clipPath id="wc7"><circle cx="1512.8" cy="1174.5" r="49.6"/></clipPath>
<g clip-path="url(#wc7)">
<circle cx="1512.8" cy="1174.5" r="49.6" fill="url(#wg7)"/>
<ellipse cx="1512" cy="1214" rx="42" ry="14" fill="#ec98a8" fill-opacity="0.85" filter="url(#hb6)"/>
<ellipse cx="1512" cy="1134" rx="42" ry="10" fill="#c08c9c" fill-opacity="0.6" filter="url(#hb6)"/>
<filter id="nz35" x="0" y="0" width="100%" height="100%" color-interpolation-filters="sRGB"><feTurbulence type="fractalNoise" baseFrequency="0.3" numOctaves="3" seed="37"/><feColorMatrix type="matrix" values="0 0 0 0 0.659 0 0 0 0 0.290 0 0 0 0 0.471 2.4 0 0 0 -1.35"/><feGaussianBlur stdDeviation="0.7"/></filter>
<rect x="1463.2" y="1124.9" width="99.2" height="99.2" filter="url(#nz35)" opacity="0.55"/>
<filter id="nz36" x="0" y="0" width="100%" height="100%" color-interpolation-filters="sRGB"><feTurbulence type="fractalNoise" baseFrequency="0.05" numOctaves="2" seed="38"/><feColorMatrix type="matrix" values="0 0 0 0 0.627 0 0 0 0 0.282 0 0 0 0 0.471 1.6 0 0 0 -0.8"/><feGaussianBlur stdDeviation="0.7"/></filter>
<rect x="1463.2" y="1124.9" width="99.2" height="99.2" filter="url(#nz36)" opacity="0.55"/>
<filter id="nz37" x="0" y="0" width="100%" height="100%" color-interpolation-filters="sRGB"><feTurbulence type="fractalNoise" baseFrequency="0.4" numOctaves="2" seed="10"/><feColorMatrix type="matrix" values="0 0 0 0 0.941 0 0 0 0 0.706 0 0 0 0 0.769 2.0 0 0 0 -1.2"/><feGaussianBlur stdDeviation="0.7"/></filter>
<rect x="1463.2" y="1124.9" width="99.2" height="99.2" filter="url(#nz37)" opacity="0.55"/>
</g>
<circle cx="1512.8" cy="1174.5" r="49.3" fill="none" stroke="#7a4058" stroke-opacity="0.75" stroke-width="1.0"/>
<radialGradient id="wg8" cx="40%" cy="65%" r="85%"><stop offset="0" stop-color="#bc4560"/><stop offset="0.5" stop-color="#ac3852"/><stop offset="1" stop-color="#86223c"/></radialGradient>
<clipPath id="wc8"><circle cx="1663.8" cy="1174.5" r="50.5"/></clipPath>
<g clip-path="url(#wc8)">
<circle cx="1663.8" cy="1174.5" r="50.5" fill="url(#wg8)"/>
<ellipse cx="1640" cy="1205" rx="32" ry="20" fill="#d8647c" fill-opacity="0.8" filter="url(#hb6)"/>
<filter id="nz38" x="0" y="0" width="100%" height="100%" color-interpolation-filters="sRGB"><feTurbulence type="fractalNoise" baseFrequency="0.3" numOctaves="3" seed="43"/><feColorMatrix type="matrix" values="0 0 0 0 0.361 0 0 0 0 0.071 0 0 0 0 0.188 3.4 0 0 0 -1.7"/><feGaussianBlur stdDeviation="0.7"/></filter>
<rect x="1613.3" y="1124.0" width="101.0" height="101.0" filter="url(#nz38)" opacity="0.55"/>
<filter id="nz39" x="0" y="0" width="100%" height="100%" color-interpolation-filters="sRGB"><feTurbulence type="fractalNoise" baseFrequency="0.08" numOctaves="2" seed="44"/><feColorMatrix type="matrix" values="0 0 0 0 0.361 0 0 0 0 0.071 0 0 0 0 0.188 2.2 0 0 0 -1.0"/><feGaussianBlur stdDeviation="0.7"/></filter>
<rect x="1613.3" y="1124.0" width="101.0" height="101.0" filter="url(#nz39)" opacity="0.55"/>
<filter id="nz40" x="0" y="0" width="100%" height="100%" color-interpolation-filters="sRGB"><feTurbulence type="fractalNoise" baseFrequency="0.4" numOctaves="2" seed="14"/><feColorMatrix type="matrix" values="0 0 0 0 0.878 0 0 0 0 0.486 0 0 0 0 0.573 2.2 0 0 0 -1.3"/><feGaussianBlur stdDeviation="0.7"/></filter>
<rect x="1613.3" y="1124.0" width="101.0" height="101.0" filter="url(#nz40)" opacity="0.55"/>
</g>
<circle cx="1663.8" cy="1174.5" r="50.2" fill="none" stroke="#4a1020" stroke-opacity="0.75" stroke-width="1.0"/>
<clipPath id="mc5"><rect x="1123.7" y="1232.1" width="149.7" height="112.5"/></clipPath>
<g clip-path="url(#mc5)">
<rect x="1123.7" y="1232.1" width="149.7" height="112.5" fill="#e6bcbe"/>
<ellipse cx="1195.7" cy="1294.1" rx="50" ry="36" fill="#cc3c4c" fill-opacity="0.6" filter="url(#hb6)" transform="rotate(35 1195.7 1294.1)"/>
<ellipse cx="1133.7" cy="1322.1" rx="18" ry="22" fill="#cc3c4c" fill-opacity="0.45" filter="url(#hb6)"/>
<ellipse cx="1253.7" cy="1272.1" rx="22" ry="26" fill="#f8f0f0" fill-opacity="0.55" filter="url(#hb6)"/>
<ellipse cx="1143.7" cy="1258.1" rx="18" ry="22" fill="#f8f0f0" fill-opacity="0.45" filter="url(#hb6)"/>
<filter id="nz41" x="0" y="0" width="100%" height="100%" color-interpolation-filters="sRGB"><feTurbulence type="fractalNoise" baseFrequency="0.07 0.4" numOctaves="3" seed="21"/><feColorMatrix type="matrix" values="0 0 0 0 0.753 0 0 0 0 0.173 0 0 0 0 0.235 4.2 0 0 0 -2.15"/><feGaussianBlur stdDeviation="0.55"/></filter>
<rect x="1086.3" y="1176.1" width="224.5" height="224.5" filter="url(#nz41)" opacity="0.6" transform="rotate(-35 1198.5 1288.3)"/>
<filter id="nz42" x="0" y="0" width="100%" height="100%" color-interpolation-filters="sRGB"><feTurbulence type="fractalNoise" baseFrequency="0.07 0.4" numOctaves="3" seed="25"/><feColorMatrix type="matrix" values="0 0 0 0 0.753 0 0 0 0 0.173 0 0 0 0 0.235 4.2 0 0 0 -2.2"/><feGaussianBlur stdDeviation="0.55"/></filter>
<rect x="1086.3" y="1176.1" width="224.5" height="224.5" filter="url(#nz42)" opacity="0.6" transform="rotate(-68 1198.5 1288.3)"/>
<filter id="nz43" x="0" y="0" width="100%" height="100%" color-interpolation-filters="sRGB"><feTurbulence type="fractalNoise" baseFrequency="0.25" numOctaves="3" seed="27"/><feColorMatrix type="matrix" values="0 0 0 0 0.722 0 0 0 0 0.188 0 0 0 0 0.251 3.0 0 0 0 -1.6"/><feGaussianBlur stdDeviation="0.55"/></filter>
<rect x="1086.3" y="1176.1" width="224.5" height="224.5" filter="url(#nz43)" opacity="0.6" transform="rotate(0 1198.5 1288.3)"/>
<filter id="nz44" x="0" y="0" width="100%" height="100%" color-interpolation-filters="sRGB"><feTurbulence type="fractalNoise" baseFrequency="0.06 0.5" numOctaves="2" seed="12"/><feColorMatrix type="matrix" values="0 0 0 0 0.984 0 0 0 0 0.949 0 0 0 0 0.949 3.4 0 0 0 -1.8"/><feGaussianBlur stdDeviation="0.55"/></filter>
<rect x="1086.3" y="1176.1" width="224.5" height="224.5" filter="url(#nz44)" opacity="0.6" transform="rotate(-35 1198.5 1288.3)"/>
</g>
<line x1="1245.0" y1="1337.5" x2="1265.2" y2="1337.5" stroke="#e6e11e" stroke-width="0.9"/>
<text x="1255.1" y="1335.0" font-size="4.6" font-weight="bold" text-anchor="middle" fill="#e6e11e">200μm</text>
<clipPath id="mc6"><rect x="1280.4" y="1232.1" width="149.7" height="112.5"/></clipPath>
<g clip-path="url(#mc6)">
<rect x="1280.4" y="1232.1" width="149.7" height="112.5" fill="#e9a0a4"/>
<ellipse cx="1405.4" cy="1272.1" rx="22" ry="26" fill="#cc3848" fill-opacity="0.6" filter="url(#hb6)"/>
<ellipse cx="1292.4" cy="1300.1" rx="16" ry="20" fill="#d03c4c" fill-opacity="0.6" filter="url(#hb6)"/>
<ellipse cx="1330.4" cy="1330.1" rx="40" ry="14" fill="#c83a4a" fill-opacity="0.45" filter="url(#hb6)"/>
<filter id="nz45" x="0" y="0" width="100%" height="100%" color-interpolation-filters="sRGB"><feTurbulence type="fractalNoise" baseFrequency="0.04 0.25" numOctaves="3" seed="33"/><feColorMatrix type="matrix" values="0 0 0 0 0.816 0 0 0 0 0.251 0 0 0 0 0.314 3.6 0 0 0 -1.85"/><feGaussianBlur stdDeviation="0.55"/></filter>
<rect x="1243.0" y="1176.1" width="224.5" height="224.5" filter="url(#nz45)" opacity="0.6" transform="rotate(-20 1355.2 1288.3)"/>
<filter id="nz46" x="0" y="0" width="100%" height="100%" color-interpolation-filters="sRGB"><feTurbulence type="fractalNoise" baseFrequency="0.22" numOctaves="3" seed="35"/><feColorMatrix type="matrix" values="0 0 0 0 0.800 0 0 0 0 0.275 0 0 0 0 0.337 2.8 0 0 0 -1.5"/><feGaussianBlur stdDeviation="0.55"/></filter>
<rect x="1243.0" y="1176.1" width="224.5" height="224.5" filter="url(#nz46)" opacity="0.6" transform="rotate(0 1355.2 1288.3)"/>
<filter id="nz47" x="0" y="0" width="100%" height="100%" color-interpolation-filters="sRGB"><feTurbulence type="fractalNoise" baseFrequency="0.08 0.4" numOctaves="2" seed="16"/><feColorMatrix type="matrix" values="0 0 0 0 0.976 0 0 0 0 0.886 0 0 0 0 0.886 3.0 0 0 0 -1.65"/><feGaussianBlur stdDeviation="0.55"/></filter>
<rect x="1243.0" y="1176.1" width="224.5" height="224.5" filter="url(#nz47)" opacity="0.6" transform="rotate(-30 1355.2 1288.3)"/>
</g>
<line x1="1401.7" y1="1337.5" x2="1421.9" y2="1337.5" stroke="#e6e11e" stroke-width="0.9"/>
<text x="1411.8" y="1335.0" font-size="4.6" font-weight="bold" text-anchor="middle" fill="#e6e11e">200μm</text>
<g clip-path="url(#mc6)" fill="#6b2535" fill-opacity="0.95" filter="url(#hb1)">
<circle cx="1400.4" cy="1309.1" r="3.57" fill="#561824"/>
<circle cx="1385.4" cy="1290.1" r="2.3100000000000005" fill="#561824"/>
<circle cx="1380.4" cy="1304.1" r="2.1" fill="#561824"/>
<circle cx="1343.4" cy="1282.1" r="2.1" fill="#561824"/>
<circle cx="1348.4" cy="1280.1" r="1.6800000000000002" fill="#561824"/>
<circle cx="1338.4" cy="1304.1" r="1.8900000000000001" fill="#561824"/>
<circle cx="1350.4" cy="1320.1" r="2.3100000000000005" fill="#561824"/>
<circle cx="1318.4" cy="1248.1" r="1.5750000000000002" fill="#561824"/>
<circle cx="1348.4" cy="1254.1" r="1.5750000000000002" fill="#561824"/>
<circle cx="1397.4" cy="1262.1" r="1.6800000000000002" fill="#561824"/>
<circle cx="1398.4" cy="1276.1" r="1.5750000000000002" fill="#561824"/>
<circle cx="1372.4" cy="1292.1" r="1.785" fill="#561824"/>
<circle cx="1377.4" cy="1297.1" r="1.6800000000000002" fill="#561824"/>
<circle cx="1315.4" cy="1326.1" r="2.1" fill="#561824"/>
<circle cx="1332.4" cy="1328.1" r="1.8900000000000001" fill="#561824"/>
<circle cx="1343.4" cy="1330.1" r="2.3100000000000005" fill="#561824"/>
<circle cx="1358.4" cy="1334.1" r="2.1" fill="#561824"/>
<circle cx="1310.4" cy="1320.1" r="1.6800000000000002" fill="#561824"/>
<circle cx="1402.4" cy="1292.1" r="2.1" fill="#561824"/>
<circle cx="1393.4" cy="1296.1" r="1.8900000000000001" fill="#561824"/>
<circle cx="1368.4" cy="1277.1" r="1.5750000000000002" fill="#561824"/>
<circle cx="1353.4" cy="1292.1" r="1.47" fill="#561824"/>
</g>
<clipPath id="mc7"><rect x="1436.8" y="1232.1" width="149.7" height="112.5"/></clipPath>
<g clip-path="url(#mc7)">
<rect x="1436.8" y="1232.1" width="149.7" height="112.5" fill="#dcc2c6"/>
<ellipse cx="1496.8" cy="1302.1" rx="45" ry="30" fill="#c88894" fill-opacity="0.4" filter="url(#hb6)"/>
<filter id="nz48" x="0" y="0" width="100%" height="100%" color-interpolation-filters="sRGB"><feTurbulence type="fractalNoise" baseFrequency="0.06 0.5" numOctaves="3" seed="45"/><feColorMatrix type="matrix" values="0 0 0 0 0.659 0 0 0 0 0.392 0 0 0 0 0.439 3.4 0 0 0 -1.85"/><feGaussianBlur stdDeviation="0.55"/></filter>
<rect x="1399.4" y="1176.1" width="224.5" height="224.5" filter="url(#nz48)" opacity="0.6" transform="rotate(-50 1511.6 1288.3)"/>
<filter id="nz49" x="0" y="0" width="100%" height="100%" color-interpolation-filters="sRGB"><feTurbulence type="fractalNoise" baseFrequency="0.06 0.5" numOctaves="3" seed="46"/><feColorMatrix type="matrix" values="0 0 0 0 0.659 0 0 0 0 0.392 0 0 0 0 0.439 3.4 0 0 0 -1.85"/><feGaussianBlur stdDeviation="0.55"/></filter>
<rect x="1399.4" y="1176.1" width="224.5" height="224.5" filter="url(#nz49)" opacity="0.6" transform="rotate(-18 1511.6 1288.3)"/>
<filter id="nz50" x="0" y="0" width="100%" height="100%" color-interpolation-filters="sRGB"><feTurbulence type="fractalNoise" baseFrequency="0.3" numOctaves="3" seed="47"/><feColorMatrix type="matrix" values="0 0 0 0 0.690 0 0 0 0 0.471 0 0 0 0 0.502 2.8 0 0 0 -1.5"/><feGaussianBlur stdDeviation="0.55"/></filter>
<rect x="1399.4" y="1176.1" width="224.5" height="224.5" filter="url(#nz50)" opacity="0.6" transform="rotate(0 1511.6 1288.3)"/>
<filter id="nz51" x="0" y="0" width="100%" height="100%" color-interpolation-filters="sRGB"><feTurbulence type="fractalNoise" baseFrequency="0.08 0.5" numOctaves="2" seed="18"/><feColorMatrix type="matrix" values="0 0 0 0 0.957 0 0 0 0 0.918 0 0 0 0 0.918 3.0 0 0 0 -1.65"/><feGaussianBlur stdDeviation="0.55"/></filter>
<rect x="1399.4" y="1176.1" width="224.5" height="224.5" filter="url(#nz51)" opacity="0.6" transform="rotate(-50 1511.6 1288.3)"/>
</g>
<line x1="1558.1" y1="1337.5" x2="1578.3" y2="1337.5" stroke="#e6e11e" stroke-width="0.9"/>
<text x="1568.2" y="1335.0" font-size="4.6" font-weight="bold" text-anchor="middle" fill="#e6e11e">200μm</text>
<clipPath id="mc8"><rect x="1593.1" y="1232.1" width="149.7" height="112.5"/></clipPath>
<g clip-path="url(#mc8)">
<rect x="1593.1" y="1232.1" width="149.7" height="112.5" fill="#e88e94"/>
<ellipse cx="1668.1" cy="1282.1" rx="30" ry="40" fill="#cc2e40" fill-opacity="0.55" filter="url(#hb6)" transform="rotate(-15 1668.1 1282.1)"/>
<ellipse cx="1608.1" cy="1317.1" rx="16" ry="28" fill="#d03848" fill-opacity="0.5" filter="url(#hb6)"/>
<ellipse cx="1613.1" cy="1250.1" rx="22" ry="14" fill="#f8eaea" fill-opacity="0.55" filter="url(#hb6)"/>
<ellipse cx="1711.1" cy="1312.1" rx="16" ry="26" fill="#f8eaea" fill-opacity="0.45" filter="url(#hb6)"/>
<filter id="nz52" x="0" y="0" width="100%" height="100%" color-interpolation-filters="sRGB"><feTurbulence type="fractalNoise" baseFrequency="0.04 0.25" numOctaves="3" seed="49"/><feColorMatrix type="matrix" values="0 0 0 0 0.800 0 0 0 0 0.204 0 0 0 0 0.267 3.8 0 0 0 -1.9"/><feGaussianBlur stdDeviation="0.55"/></filter>
<rect x="1555.7" y="1176.1" width="224.5" height="224.5" filter="url(#nz52)" opacity="0.6" transform="rotate(-60 1667.9 1288.3)"/>
<filter id="nz53" x="0" y="0" width="100%" height="100%" color-interpolation-filters="sRGB"><feTurbulence type="fractalNoise" baseFrequency="0.22" numOctaves="3" seed="51"/><feColorMatrix type="matrix" values="0 0 0 0 0.800 0 0 0 0 0.227 0 0 0 0 0.290 3.0 0 0 0 -1.55"/><feGaussianBlur stdDeviation="0.55"/></filter>
<rect x="1555.7" y="1176.1" width="224.5" height="224.5" filter="url(#nz53)" opacity="0.6" transform="rotate(0 1667.9 1288.3)"/>
<filter id="nz54" x="0" y="0" width="100%" height="100%" color-interpolation-filters="sRGB"><feTurbulence type="fractalNoise" baseFrequency="0.08 0.4" numOctaves="2" seed="20"/><feColorMatrix type="matrix" values="0 0 0 0 0.984 0 0 0 0 0.918 0 0 0 0 0.918 3.2 0 0 0 -1.7"/><feGaussianBlur stdDeviation="0.55"/></filter>
<rect x="1555.7" y="1176.1" width="224.5" height="224.5" filter="url(#nz54)" opacity="0.6" transform="rotate(-50 1667.9 1288.3)"/>
</g>
<line x1="1714.4" y1="1337.5" x2="1734.6" y2="1337.5" stroke="#e6e11e" stroke-width="0.9"/>
<text x="1724.5" y="1335.0" font-size="4.6" font-weight="bold" text-anchor="middle" fill="#e6e11e">200μm</text>
<g clip-path="url(#mc8)" fill="#5a1826" fill-opacity="0.6" filter="url(#hb1)">
<circle cx="1633.4" cy="1247.7" r="0.9772407698274767" fill="#5e1c2a"/>
<circle cx="1622.3" cy="1244.0" r="0.9811137101395524" fill="#5e1c2a"/>
<circle cx="1726.9" cy="1319.5" r="1.2356138217538069" fill="#5e1c2a"/>
<circle cx="1631.5" cy="1292.4" r="0.893677850409015" fill="#5e1c2a"/>
<circle cx="1624.8" cy="1248.0" r="0.8500803028052415" fill="#5e1c2a"/>
<circle cx="1728.2" cy="1322.5" r="1.2646566426916264" fill="#5e1c2a"/>
<circle cx="1710.8" cy="1257.0" r="0.9168949701096749" fill="#5e1c2a"/>
<circle cx="1687.0" cy="1312.5" r="1.298253850593943" fill="#5e1c2a"/>
<circle cx="1721.7" cy="1246.0" r="1.124096318603916" fill="#5e1c2a"/>
<circle cx="1693.1" cy="1289.2" r="0.824453121968549" fill="#5e1c2a"/>
<circle cx="1666.0" cy="1246.3" r="1.3542118547299355" fill="#5e1c2a"/>
<circle cx="1719.7" cy="1293.5" r="0.9101720177013273" fill="#5e1c2a"/>
<circle cx="1725.6" cy="1296.1" r="1.317622067915153" fill="#5e1c2a"/>
<circle cx="1717.3" cy="1289.5" r="0.9897622301922123" fill="#5e1c2a"/>
<circle cx="1683.2" cy="1281.5" r="0.8129244242851259" fill="#5e1c2a"/>
<circle cx="1642.9" cy="1320.8" r="0.7302669283505739" fill="#5e1c2a"/>
<circle cx="1607.4" cy="1301.6" r="0.8963032481313531" fill="#5e1c2a"/>
<circle cx="1674.3" cy="1285.6" r="0.9399902857955091" fill="#5e1c2a"/>
<circle cx="1737.7" cy="1257.2" r="0.9889562594851274" fill="#5e1c2a"/>
<circle cx="1628.9" cy="1302.3" r="0.8934133844717782" fill="#5e1c2a"/>
<circle cx="1649.8" cy="1314.0" r="0.9244682322748193" fill="#5e1c2a"/>
<circle cx="1677.6" cy="1330.2" r="0.7706856071025017" fill="#5e1c2a"/>
<circle cx="1609.5" cy="1260.7" r="1.2356135689283931" fill="#5e1c2a"/>
<circle cx="1685.4" cy="1261.6" r="0.9317468967602143" fill="#5e1c2a"/>
<circle cx="1625.4" cy="1284.4" r="0.7299678314474137" fill="#5e1c2a"/>
<circle cx="1696.6" cy="1329.4" r="1.3683163188396414" fill="#5e1c2a"/>
</g>
<text x="986.6" y="1383.1" font-size="18.9" font-weight="bold">LV-circ_0001599</text>
<text x="972.9" y="1417.4" font-size="19.0" font-weight="bold">miR-889-3p-mimics</text>
<text font-size="20" font-weight="bold" text-anchor="middle" transform="translate(1198.3 1383.0) scale(2.1 1)">-</text>
<text font-size="20" font-weight="bold" text-anchor="middle" transform="translate(1198.3 1419.0) scale(2.1 1)">-</text>
<text x="1354.8" y="1388.1" font-size="34" text-anchor="middle" stroke="#fff" stroke-width="0.5">+</text>
<text font-size="20" font-weight="bold" text-anchor="middle" transform="translate(1354.8 1419.0) scale(2.1 1)">-</text>
<text font-size="20" font-weight="bold" text-anchor="middle" transform="translate(1511.2 1383.0) scale(2.1 1)">-</text>
<text x="1511.2" y="1424.1" font-size="34" text-anchor="middle" stroke="#fff" stroke-width="0.5">+</text>
<text x="1667.6" y="1388.1" font-size="34" text-anchor="middle" stroke="#fff" stroke-width="0.5">+</text>
<text x="1667.6" y="1424.1" font-size="34" text-anchor="middle" stroke="#fff" stroke-width="0.5">+</text>
<line x1="1918.2" y1="974.1" x2="1918.2" y2="975.0" stroke="#000" stroke-width="1.4"/>
<line x1="1914.7" y1="974.1" x2="1921.7" y2="974.1" stroke="#000" stroke-width="1.4"/>
<rect x="1909.4" y="975.0" width="17.7" height="87.1" fill="#e3f3f3" stroke="#333" stroke-width="1"/>
<line x1="1945.2" y1="946.3" x2="1945.2" y2="949.7" stroke="#000" stroke-width="1.4"/>
<line x1="1941.7" y1="946.3" x2="1948.7" y2="946.3" stroke="#000" stroke-width="1.4"/>
<rect x="1936.4" y="949.7" width="17.7" height="112.4" fill="#f2e08e" stroke="#333" stroke-width="1"/>
<line x1="1972.1" y1="1007.2" x2="1972.1" y2="1009.8" stroke="#000" stroke-width="1.4"/>
<line x1="1968.6" y1="1007.2" x2="1975.6" y2="1007.2" stroke="#000" stroke-width="1.4"/>
<rect x="1963.2" y="1009.8" width="17.7" height="52.3" fill="#ff2d1e" stroke="#333" stroke-width="1"/>
<line x1="1999.0" y1="958.5" x2="1999.0" y2="964.5" stroke="#000" stroke-width="1.4"/>
<line x1="1995.5" y1="958.5" x2="2002.5" y2="958.5" stroke="#000" stroke-width="1.4"/>
<rect x="1990.2" y="964.5" width="17.7" height="97.6" fill="#487fbd" stroke="#333" stroke-width="1"/>
<circle cx="1911.3" cy="975.4" r="1.9" fill="#000"/>
<circle cx="1918.2" cy="973.7" r="1.9" fill="#000"/>
<circle cx="1925.5" cy="975.0" r="1.9" fill="#000"/>
<circle cx="1941.6" cy="946.7" r="1.9" fill="#000"/>
<circle cx="1948.5" cy="948.9" r="1.9" fill="#000"/>
<circle cx="1945.2" cy="952.8" r="1.9" fill="#000"/>
<circle cx="1965.2" cy="1011.1" r="1.9" fill="#000"/>
<circle cx="1972.1" cy="1007.7" r="1.9" fill="#000"/>
<circle cx="1979.0" cy="1009.4" r="1.9" fill="#000"/>
<circle cx="1995.7" cy="960.6" r="1.9" fill="#000"/>
<circle cx="2002.2" cy="961.1" r="1.9" fill="#000"/>
<circle cx="1998.8" cy="971.1" r="1.9" fill="#000"/>
<line x1="1899.9" y1="887.1" x2="1899.9" y2="1062.9" stroke="#000" stroke-width="1.6"/>
<line x1="1893.4" y1="1062.1" x2="2017.5" y2="1062.1" stroke="#000" stroke-width="1.6"/>
<line x1="1893.4" y1="887.9" x2="1899.9" y2="887.9" stroke="#000" stroke-width="1.6"/>
<text x="1891.2" y="892.6" font-size="13" font-weight="bold" text-anchor="end">2.0</text>
<line x1="1893.4" y1="931.4" x2="1899.9" y2="931.4" stroke="#000" stroke-width="1.6"/>
<text x="1891.2" y="936.1" font-size="13" font-weight="bold" text-anchor="end">1.5</text>
<line x1="1893.4" y1="975.0" x2="1899.9" y2="975.0" stroke="#000" stroke-width="1.6"/>
<text x="1891.2" y="979.7" font-size="13" font-weight="bold" text-anchor="end">1.0</text>
<line x1="1893.4" y1="1018.5" x2="1899.9" y2="1018.5" stroke="#000" stroke-width="1.6"/>
<text x="1891.2" y="1023.2" font-size="13" font-weight="bold" text-anchor="end">0.5</text>
<line x1="1893.4" y1="1062.1" x2="1899.9" y2="1062.1" stroke="#000" stroke-width="1.6"/>
<text x="1891.2" y="1066.8" font-size="13" font-weight="bold" text-anchor="end">0.0</text>
<line x1="1918.2" y1="1062.1" x2="1918.2" y2="1068.6" stroke="#000" stroke-width="1.6"/>
<line x1="1945.2" y1="1062.1" x2="1945.2" y2="1068.6" stroke="#000" stroke-width="1.6"/>
<line x1="1972.1" y1="1062.1" x2="1972.1" y2="1068.6" stroke="#000" stroke-width="1.6"/>
<line x1="1999.0" y1="1062.1" x2="1999.0" y2="1068.6" stroke="#000" stroke-width="1.6"/>
<text font-size="12.9" font-weight="bold" text-anchor="middle" transform="translate(1859.3 974.2) rotate(-90)">Relative ALP Stain Area</text>
<path d="M1918.6 963.2V932.7H1945.2V941.6" stroke="#111" stroke-width="1.7" fill="none"/>
<text x="1931.7" y="929.7" font-size="11.8" font-weight="bold" text-anchor="middle" fill="#111" letter-spacing="0.9">***</text>
<path d="M1918.6 921.0V913.1H1972.3V997.6" stroke="#111" stroke-width="1.7" fill="none"/>
<text x="1944.5" y="909.5" font-size="11.8" font-weight="bold" text-anchor="middle" fill="#111" letter-spacing="0.9">****</text>
<path d="M1970.3 907.2V898.3H1999.2V953.4" stroke="#111" stroke-width="1.7" fill="none"/>
<text x="1984.2" y="894.7" font-size="11.8" font-weight="bold" text-anchor="middle" fill="#111" letter-spacing="0.9">***</text>
<text x="1892.0" y="1093.2" font-size="13.1" font-weight="bold" text-anchor="end">LV-circ_0001599</text>
<text x="1902.0" y="1116.4" font-size="13.1" font-weight="bold" text-anchor="end">miR-889-3p-mimics</text>
<text x="1918.2" y="1091.9" font-size="13" text-anchor="middle">-</text>
<text x="1918.2" y="1118.6" font-size="13" text-anchor="middle">-</text>
<text x="1945.2" y="1092.9" font-size="13" text-anchor="middle">+</text>
<text x="1945.2" y="1118.6" font-size="13" text-anchor="middle">-</text>
<text x="1972.1" y="1091.9" font-size="13" text-anchor="middle">-</text>
<text x="1972.1" y="1119.6" font-size="13" text-anchor="middle">+</text>
<text x="1999.0" y="1092.9" font-size="13" text-anchor="middle">+</text>
<text x="1999.0" y="1119.6" font-size="13" text-anchor="middle">+</text>
<line x1="1918.2" y1="1280.9" x2="1918.2" y2="1286.8" stroke="#000" stroke-width="1.4"/>
<line x1="1914.7" y1="1280.9" x2="1921.7" y2="1280.9" stroke="#000" stroke-width="1.4"/>
<rect x="1909.4" y="1286.8" width="17.7" height="58.2" fill="#e3f3f3" stroke="#333" stroke-width="1"/>
<line x1="1945.2" y1="1244.3" x2="1945.2" y2="1250.1" stroke="#000" stroke-width="1.4"/>
<line x1="1941.7" y1="1244.3" x2="1948.7" y2="1244.3" stroke="#000" stroke-width="1.4"/>
<rect x="1936.4" y="1250.1" width="17.7" height="94.9" fill="#f2e08e" stroke="#333" stroke-width="1"/>
<line x1="1972.1" y1="1304.2" x2="1972.1" y2="1310.6" stroke="#000" stroke-width="1.4"/>
<line x1="1968.6" y1="1304.2" x2="1975.6" y2="1304.2" stroke="#000" stroke-width="1.4"/>
<rect x="1963.2" y="1310.6" width="17.7" height="34.4" fill="#ff2d1e" stroke="#333" stroke-width="1"/>
<line x1="1999.0" y1="1276.3" x2="1999.0" y2="1278.0" stroke="#000" stroke-width="1.4"/>
<line x1="1995.5" y1="1276.3" x2="2002.5" y2="1276.3" stroke="#000" stroke-width="1.4"/>
<rect x="1990.2" y="1278.0" width="17.7" height="67.0" fill="#487fbd" stroke="#333" stroke-width="1"/>
<circle cx="1918.2" cy="1280.9" r="1.9" fill="#000"/>
<circle cx="1918.2" cy="1286.8" r="1.9" fill="#000"/>
<circle cx="1918.2" cy="1291.4" r="1.9" fill="#000"/>
<circle cx="1944.7" cy="1243.7" r="1.9" fill="#000"/>
<circle cx="1941.1" cy="1253.6" r="1.9" fill="#000"/>
<circle cx="1948.5" cy="1251.2" r="1.9" fill="#000"/>
<circle cx="1968.4" cy="1305.4" r="1.9" fill="#000"/>
<circle cx="1975.4" cy="1306.6" r="1.9" fill="#000"/>
<circle cx="1971.8" cy="1316.5" r="1.9" fill="#000"/>
<circle cx="1991.8" cy="1278.6" r="1.9" fill="#000"/>
<circle cx="1998.9" cy="1275.7" r="1.9" fill="#000"/>
<circle cx="2005.9" cy="1277.4" r="1.9" fill="#000"/>
<line x1="1900.0" y1="1169.5" x2="1900.0" y2="1345.8" stroke="#000" stroke-width="1.6"/>
<line x1="1893.5" y1="1345.0" x2="2017.5" y2="1345.0" stroke="#000" stroke-width="1.6"/>
<line x1="1893.5" y1="1170.3" x2="1900.0" y2="1170.3" stroke="#000" stroke-width="1.6"/>
<text x="1890.5" y="1175.0" font-size="13" font-weight="bold" text-anchor="end">3</text>
<line x1="1893.5" y1="1228.5" x2="1900.0" y2="1228.5" stroke="#000" stroke-width="1.6"/>
<text x="1890.5" y="1233.2" font-size="13" font-weight="bold" text-anchor="end">2</text>
<line x1="1893.5" y1="1286.8" x2="1900.0" y2="1286.8" stroke="#000" stroke-width="1.6"/>
<text x="1890.5" y="1291.4" font-size="13" font-weight="bold" text-anchor="end">1</text>
<line x1="1893.5" y1="1345.0" x2="1900.0" y2="1345.0" stroke="#000" stroke-width="1.6"/>
<text x="1890.5" y="1349.7" font-size="13" font-weight="bold" text-anchor="end">0</text>
<line x1="1918.2" y1="1345.0" x2="1918.2" y2="1351.5" stroke="#000" stroke-width="1.6"/>
<line x1="1945.2" y1="1345.0" x2="1945.2" y2="1351.5" stroke="#000" stroke-width="1.6"/>
<line x1="1972.1" y1="1345.0" x2="1972.1" y2="1351.5" stroke="#000" stroke-width="1.6"/>
<line x1="1999.0" y1="1345.0" x2="1999.0" y2="1351.5" stroke="#000" stroke-width="1.6"/>
<text font-size="12.4" font-weight="bold" text-anchor="middle" transform="translate(1872.7 1257.8) rotate(-90)">Relative Alizarin red S Intensity</text>
<path d="M1917.6 1276.6V1229.1H1945.1V1235.7" stroke="#111" stroke-width="1.7" fill="none"/>
<text x="1931.2" y="1227.0" font-size="11.8" font-weight="bold" text-anchor="middle" fill="#111" letter-spacing="0.9">***</text>
<path d="M1917.6 1217.8V1209.8H1972.4V1292.5" stroke="#111" stroke-width="1.7" fill="none"/>
<text x="1943.2" y="1207.0" font-size="11.8" font-weight="bold" text-anchor="middle" fill="#111" letter-spacing="0.9">**</text>
<path d="M1944.5 1190.8V1182.5H1999.3V1264.6" stroke="#111" stroke-width="1.7" fill="none"/>
<text x="1969.7" y="1180.7" font-size="11.8" font-weight="bold" text-anchor="middle" fill="#111" letter-spacing="0.9">***</text>
<text x="1894.7" y="1375.4" font-size="13.1" font-weight="bold" text-anchor="end">LV-circ_0001599</text>
<text x="1904.0" y="1398.9" font-size="13.1" font-weight="bold" text-anchor="end">miR-889-3p-mimics</text>
<text x="1918.2" y="1374.1" font-size="13" text-anchor="middle">-</text>
<text x="1918.2" y="1401.1" font-size="13" text-anchor="middle">-</text>
<text x="1945.2" y="1375.1" font-size="13" text-anchor="middle">+</text>
<text x="1945.2" y="1401.1" font-size="13" text-anchor="middle">-</text>
<text x="1972.1" y="1374.1" font-size="13" text-anchor="middle">-</text>
<text x="1972.1" y="1402.1" font-size="13" text-anchor="middle">+</text>
<text x="1999.0" y="1375.1" font-size="13" text-anchor="middle">+</text>
<text x="1999.0" y="1402.1" font-size="13" text-anchor="middle">+</text>
</svg>
</body></html>
